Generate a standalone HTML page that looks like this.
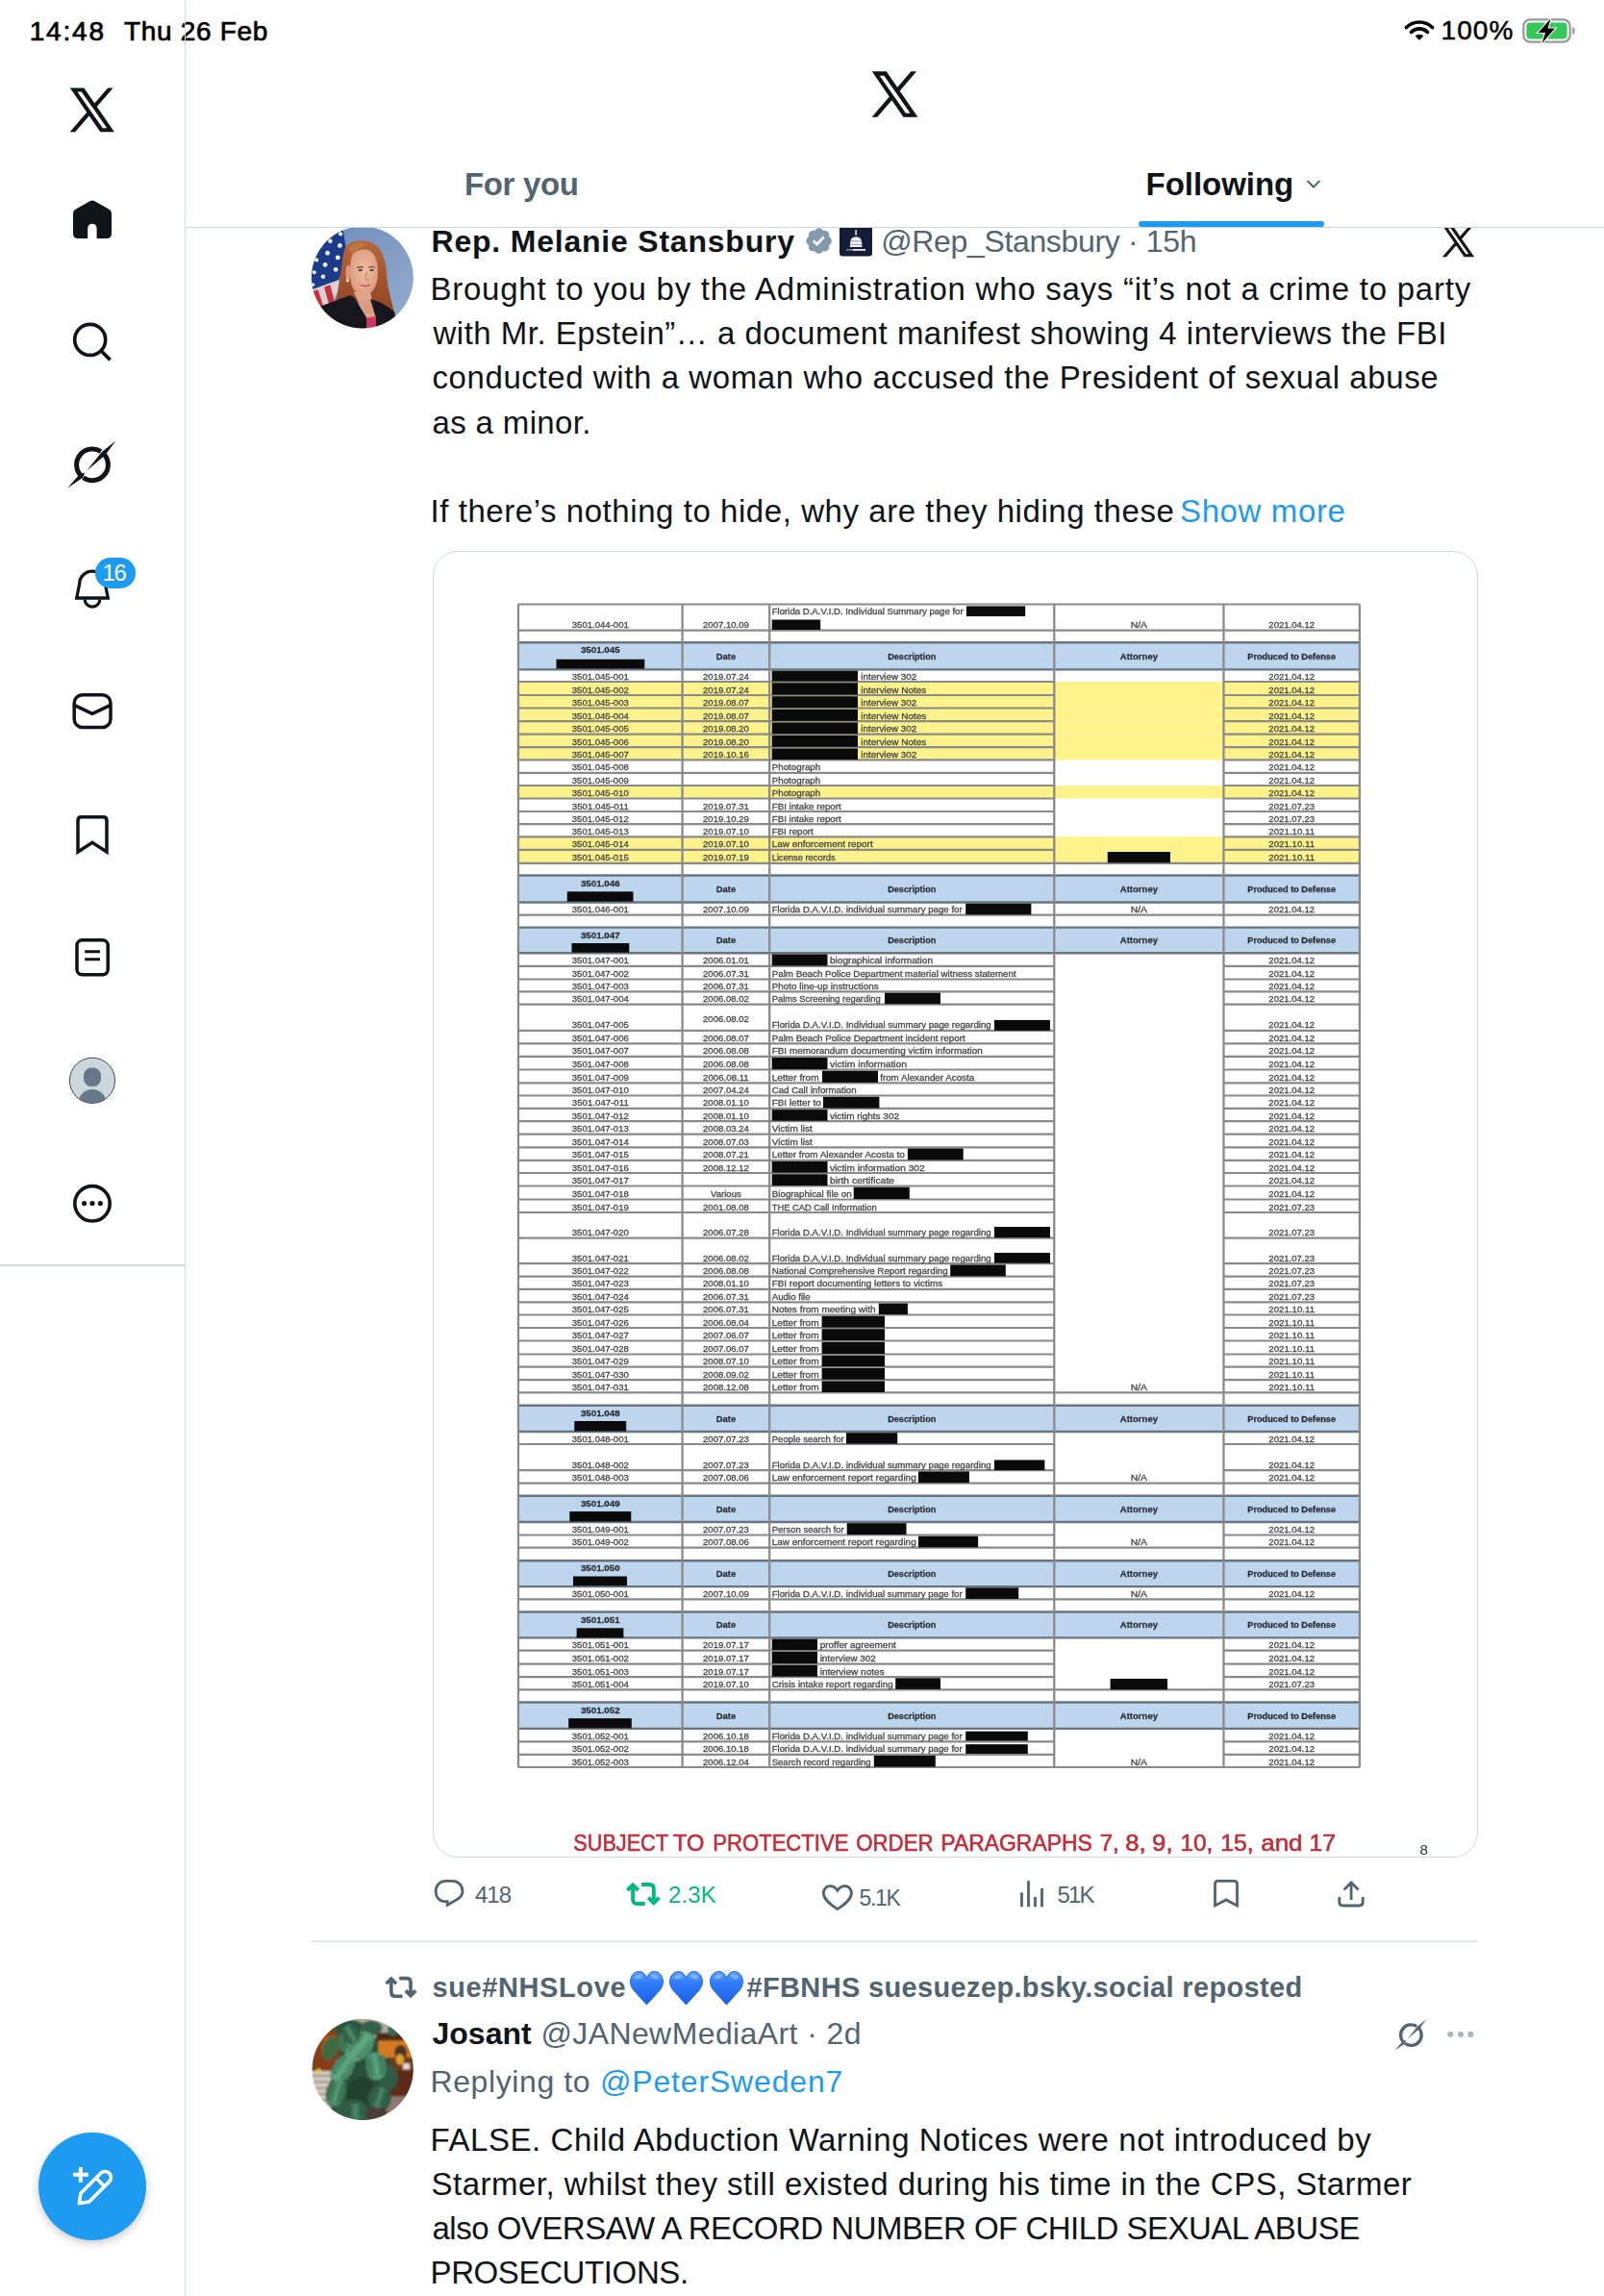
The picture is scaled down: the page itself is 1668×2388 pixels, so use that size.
<!DOCTYPE html>
<html><head><meta charset="utf-8"><title>X</title>
<style>
html,body{margin:0;padding:0;background:#fff;}
body{width:1668px;height:2388px;position:relative;overflow:hidden;font-family:"Liberation Sans", sans-serif;color:#0f1419;}
.t{position:absolute;white-space:nowrap;}
svg{position:absolute;overflow:visible;}
</style></head><body>
<svg style="left:320px;top:232px" width="114" height="114" viewBox="0 0 1604 1604">
<defs><clipPath id="av1c"><circle cx="800" cy="795" r="745"/></clipPath><filter id="av1b" x="-5%" y="-5%" width="110%" height="110%"><feGaussianBlur stdDeviation="10"/></filter>
<linearGradient id="av1bg" x1="0" y1="0" x2="1" y2="1"><stop offset="0" stop-color="#6a89ba"/><stop offset="0.6" stop-color="#86a0c6"/><stop offset="1" stop-color="#98afcc"/></linearGradient>
<linearGradient id="av1h" x1="0" y1="0" x2="0" y2="1"><stop offset="0" stop-color="#b8683c"/><stop offset="0.5" stop-color="#a4552c"/><stop offset="1" stop-color="#8e4424"/></linearGradient>
<radialGradient id="av1f" cx="0.5" cy="0.45" r="0.6"><stop offset="0" stop-color="#efbca2"/><stop offset="0.8" stop-color="#dfa286"/><stop offset="1" stop-color="#c8876a"/></radialGradient></defs>
<g clip-path="url(#av1c)"><g filter="url(#av1b)">
<rect x="0" y="0" width="1604" height="1604" fill="url(#av1bg)"/>
<polygon points="40,960 460,820 440,1000 340,1200 200,1280 60,1150" fill="#dcd0d6"/>
<polygon points="70,1000 150,975 240,1250 180,1270" fill="#c7323c"/>
<polygon points="240,935 330,905 390,1140 310,1190" fill="#c7323c"/>
<polygon points="150,170 515,90 570,420 530,640 455,830 60,975 40,700 70,380" fill="#1f3a8a"/>
<g fill="#eef2fa">
<circle cx="480" cy="160" r="30"/><circle cx="330" cy="265" r="32"/><circle cx="470" cy="330" r="34"/><circle cx="290" cy="440" r="34"/>
<circle cx="440" cy="505" r="34"/><circle cx="130" cy="540" r="30"/><circle cx="255" cy="610" r="34"/><circle cx="410" cy="680" r="34"/>
<circle cx="95" cy="720" r="28"/><circle cx="225" cy="785" r="32"/><circle cx="80" cy="900" r="24"/></g>
<path d="M560,340 C620,250 840,220 980,310 C1110,400 1150,600 1160,800 C1170,980 1230,1140 1270,1330 L1010,1320 L640,1120 C560,1140 480,1170 400,1190 C450,1000 470,800 500,600 C515,480 530,400 560,340 Z" fill="url(#av1h)"/>
<path d="M600,360 C680,280 820,270 900,320 C820,330 720,380 650,470 Z" fill="#c47a4a" opacity="0.7"/>
<path d="M650,470 C700,400 820,360 920,410 C1010,470 1040,640 1020,820 C1000,960 920,1060 830,1065 C740,1065 670,1000 640,900 C610,780 610,560 650,470 Z" fill="url(#av1f)"/>
<path d="M575,620 C605,605 630,650 628,710 C626,790 605,845 585,850 C550,830 545,700 575,620 Z" fill="#d99a80"/>
<circle cx="585" cy="840" r="22" fill="#f4f0ea"/>
<polygon points="670,1010 915,1010 1000,1385 865,1400" fill="#dea58a"/><polygon points="760,1150 915,1120 990,1300 870,1330" fill="#d39478" opacity="0.6"/>
<path d="M720,655 q45,-25 95,-5 M890,650 q45,-20 90,0" stroke="#6a4030" stroke-width="16" fill="none"/>
<ellipse cx="770" cy="690" rx="32" ry="14" fill="#4a3028"/><ellipse cx="935" cy="688" rx="30" ry="14" fill="#4a3028"/>
<path d="M860,720 q-20,80 -5,110 q20,12 45,0" stroke="#c28268" stroke-width="14" fill="none"/>
<path d="M770,905 q70,30 145,0 q-70,35 -145,0 Z" fill="#c0505e" stroke="#c0505e" stroke-width="16"/>
<path d="M120,1250 C300,1170 480,1110 620,1060 L680,1090 L870,1400 L860,1604 L100,1604 Z" fill="#17181d"/>
<path d="M915,1110 C1000,1130 1150,1190 1270,1300 L1320,1604 L990,1604 L995,1380 Z" fill="#17181d"/>
<polygon points="855,1390 995,1365 1005,1604 880,1604" fill="#d13463"/>
</g></g></svg>
<div class="t" id="name1" style="left:448.5px;top:235.31px;font-size:32px;line-height:32px;color:#0f1419;font-weight:700;letter-spacing:0.79px;">Rep. Melanie Stansbury</div>
<svg style="left:834.5px;top:234.6px" width="36" height="34" viewBox="0 0 24 24"><path fill="#8399ad" d="M20.396 11c-.018-.646-.215-1.275-.57-1.816-.354-.54-.852-.972-1.438-1.246.223-.607.27-1.264.14-1.897-.131-.634-.437-1.218-.882-1.687-.47-.445-1.053-.75-1.687-.882-.633-.13-1.29-.083-1.897.14-.273-.587-.704-1.086-1.245-1.44S11.647 1.62 11 1.604c-.646.017-1.273.213-1.813.568s-.969.854-1.24 1.44c-.608-.223-1.267-.272-1.902-.14-.635.13-1.22.436-1.69.882-.445.47-.749 1.055-.878 1.688-.13.633-.08 1.29.144 1.896-.587.274-1.087.705-1.443 1.245-.356.54-.555 1.17-.574 1.817.02.647.218 1.276.574 1.817.356.54.856.972 1.443 1.245-.224.606-.274 1.263-.144 1.896.13.634.433 1.218.877 1.688.47.443 1.054.747 1.687.878.633.132 1.29.084 1.897-.136.274.586.705 1.084 1.246 1.439.54.354 1.17.551 1.816.569.647-.016 1.276-.213 1.817-.567s.972-.854 1.245-1.44c.604.239 1.266.296 1.903.164.636-.132 1.22-.447 1.68-.907.46-.46.776-1.044.908-1.681s.075-1.299-.165-1.903c.586-.274 1.084-.705 1.439-1.246.354-.54.551-1.17.569-1.816z"/><path fill="#fff" d="M9.662 14.85l-3.429-3.428 1.293-1.302 2.072 2.072 4.4-4.794 1.347 1.246z"/></svg>
<svg style="left:873px;top:235px" width="34" height="31.5" viewBox="0 0 34 31.5"><rect x="0" y="0" width="34" height="31.5" rx="3.2" fill="#141c38"/>
<rect x="16.3" y="4.2" width="1.6" height="5.4" fill="#e8eaf0"/>
<path d="M11 22 L11 18.6 Q11 11.2 17.1 11.2 Q23.3 11.2 23.3 18.6 L23.3 22 Z" fill="#f2f3f6"/>
<path d="M11.5 15.8 H22.8 M11.3 19.4 H23" stroke="#8088a0" stroke-width="0.8"/>
<rect x="7" y="24" width="6" height="1.6" fill="#7d849a"/><rect x="13.5" y="24" width="13.5" height="1.8" fill="#e6e8ee"/></svg>
<div class="t" id="handle1" style="left:916.2px;top:235.31px;font-size:32px;line-height:32px;color:#536471;letter-spacing:-0.35px;">@Rep_Stansbury · 15h</div>
<svg style="left:1501.4px;top:234.8px" width="31.1" height="31.8" viewBox="0 0 1200 1227"><path fill="#0f1419" stroke="#0f1419" stroke-width="40" d="M714.163 519.284L1160.89 0H1055.03L667.137 450.887L357.328 0H0L468.492 681.821L0 1226.37H105.866L515.491 750.218L842.672 1226.37H1200L714.163 519.284ZM569.165 687.828L521.697 619.934L144.011 79.6944H306.615L611.412 515.685L658.88 583.579L1055.08 1150.3H892.476L569.165 687.828Z"/></svg>
<div class="t" id="b1" style="left:447.5px;top:283.86px;font-size:33px;line-height:33px;color:#0f1419;letter-spacing:0.75px;">Brought to you by the Administration who says “it’s not a crime to party</div>
<div class="t" id="b2" style="left:450.5px;top:330.06px;font-size:33px;line-height:33px;color:#0f1419;letter-spacing:0.49px;">with Mr. Epstein”… a document manifest showing 4 interviews the FBI</div>
<div class="t" id="b3" style="left:449.5px;top:376.46px;font-size:33px;line-height:33px;color:#0f1419;letter-spacing:0.59px;">conducted with a woman who accused the President of sexual abuse</div>
<div class="t" id="b4" style="left:449.5px;top:422.96px;font-size:33px;line-height:33px;color:#0f1419;letter-spacing:0.35px;">as a minor.</div>
<div class="t" id="b5" style="left:447.5px;top:514.86px;font-size:33px;line-height:33px;color:#0f1419;letter-spacing:0.56px;">If there’s nothing to hide, why are they hiding these</div>
<div class="t" id="b5m" style="left:1227px;top:514.86px;font-size:33px;line-height:33px;color:#1d9bf0;letter-spacing:0.62px;">Show more</div>
<div style="position:absolute;left:449.6px;top:573px;width:1085.4px;height:1357.4px;border:1px solid #cfd9de;border-radius:26px;background:#fff;"></div>
<svg style="left:0;top:0;filter:blur(0.5px)" width="1668" height="2388" viewBox="0 0 1668 2388"><rect x="539" y="668.3" width="874.9" height="28.1" fill="#bdd6ee"/><rect x="537.5" y="709" width="876.4" height="14" fill="#fef28b"/><rect x="537.5" y="723" width="876.4" height="13.5" fill="#fef28b"/><rect x="537.5" y="736.5" width="876.4" height="13.7" fill="#fef28b"/><rect x="537.5" y="750.2" width="876.4" height="13.5" fill="#fef28b"/><rect x="537.5" y="763.7" width="876.4" height="13.5" fill="#fef28b"/><rect x="537.5" y="777.2" width="876.4" height="13.2" fill="#fef28b"/><rect x="537.5" y="817" width="876.4" height="13.5" fill="#fef28b"/><rect x="537.5" y="870.3" width="876.4" height="13.5" fill="#fef28b"/><rect x="537.5" y="883.8" width="876.4" height="14" fill="#fef28b"/><rect x="539" y="910.5" width="874.9" height="28" fill="#bdd6ee"/><rect x="539" y="964.6" width="874.9" height="26.7" fill="#bdd6ee"/><rect x="539" y="1461.8" width="874.9" height="27.2" fill="#bdd6ee"/><rect x="539" y="1555.8" width="874.9" height="27.2" fill="#bdd6ee"/><rect x="539" y="1623.2" width="874.9" height="26.9" fill="#bdd6ee"/><rect x="539" y="1676.5" width="874.9" height="26.9" fill="#bdd6ee"/><rect x="539" y="1770.5" width="874.9" height="27.4" fill="#bdd6ee"/><path d="M539 628.5H1413.9" stroke="#8a8a8a" stroke-width="2.2"/><path d="M539 655.7H1413.9" stroke="#8a8a8a" stroke-width="2.2"/><path d="M539 668.3H1413.9" stroke="#6a7480" stroke-width="2.4"/><path d="M539 696.4H1413.9" stroke="#6a7480" stroke-width="2.4"/><path d="M539 709H1096.3M1272.5 709H1413.9" stroke="#8a8a8a" stroke-width="2.2"/><path d="M539 723H1096.3M1272.5 723H1413.9" stroke="#8a8a8a" stroke-width="2.2"/><path d="M539 736.5H1096.3M1272.5 736.5H1413.9" stroke="#8a8a8a" stroke-width="2.2"/><path d="M539 750.2H1096.3M1272.5 750.2H1413.9" stroke="#8a8a8a" stroke-width="2.2"/><path d="M539 763.7H1096.3M1272.5 763.7H1413.9" stroke="#8a8a8a" stroke-width="2.2"/><path d="M539 777.2H1096.3M1272.5 777.2H1413.9" stroke="#8a8a8a" stroke-width="2.2"/><path d="M539 790.4H1096.3M1272.5 790.4H1413.9" stroke="#8a8a8a" stroke-width="2.2"/><path d="M539 803.8H1096.3M1272.5 803.8H1413.9" stroke="#8a8a8a" stroke-width="2.2"/><path d="M539 817H1096.3M1272.5 817H1413.9" stroke="#8a8a8a" stroke-width="2.2"/><path d="M539 830.5H1096.3M1272.5 830.5H1413.9" stroke="#8a8a8a" stroke-width="2.2"/><path d="M539 844H1096.3M1272.5 844H1413.9" stroke="#8a8a8a" stroke-width="2.2"/><path d="M539 857.2H1096.3M1272.5 857.2H1413.9" stroke="#8a8a8a" stroke-width="2.2"/><path d="M539 870.3H1096.3M1272.5 870.3H1413.9" stroke="#8a8a8a" stroke-width="2.2"/><path d="M539 883.8H1096.3M1272.5 883.8H1413.9" stroke="#8a8a8a" stroke-width="2.2"/><path d="M539 897.8H1413.9" stroke="#8a8a8a" stroke-width="2.2"/><path d="M539 910.5H1413.9" stroke="#6a7480" stroke-width="2.4"/><path d="M539 938.5H1413.9" stroke="#6a7480" stroke-width="2.4"/><path d="M539 951.7H1413.9" stroke="#8a8a8a" stroke-width="2.2"/><path d="M539 964.6H1413.9" stroke="#6a7480" stroke-width="2.4"/><path d="M539 991.3H1413.9" stroke="#6a7480" stroke-width="2.4"/><path d="M539 1004.8H1096.3M1272.5 1004.8H1413.9" stroke="#8a8a8a" stroke-width="2.2"/><path d="M539 1018.5H1096.3M1272.5 1018.5H1413.9" stroke="#8a8a8a" stroke-width="2.2"/><path d="M539 1031.4H1096.3M1272.5 1031.4H1413.9" stroke="#8a8a8a" stroke-width="2.2"/><path d="M539 1044.6H1096.3M1272.5 1044.6H1413.9" stroke="#8a8a8a" stroke-width="2.2"/><path d="M539 1071.8H1096.3M1272.5 1071.8H1413.9" stroke="#8a8a8a" stroke-width="2.2"/><path d="M539 1085.3H1096.3M1272.5 1085.3H1413.9" stroke="#8a8a8a" stroke-width="2.2"/><path d="M539 1098.8H1096.3M1272.5 1098.8H1413.9" stroke="#8a8a8a" stroke-width="2.2"/><path d="M539 1112.5H1096.3M1272.5 1112.5H1413.9" stroke="#8a8a8a" stroke-width="2.2"/><path d="M539 1126.3H1096.3M1272.5 1126.3H1413.9" stroke="#8a8a8a" stroke-width="2.2"/><path d="M539 1139.5H1096.3M1272.5 1139.5H1413.9" stroke="#8a8a8a" stroke-width="2.2"/><path d="M539 1152.9H1096.3M1272.5 1152.9H1413.9" stroke="#8a8a8a" stroke-width="2.2"/><path d="M539 1166.1H1096.3M1272.5 1166.1H1413.9" stroke="#8a8a8a" stroke-width="2.2"/><path d="M539 1179.6H1096.3M1272.5 1179.6H1413.9" stroke="#8a8a8a" stroke-width="2.2"/><path d="M539 1193.3H1096.3M1272.5 1193.3H1413.9" stroke="#8a8a8a" stroke-width="2.2"/><path d="M539 1206.8H1096.3M1272.5 1206.8H1413.9" stroke="#8a8a8a" stroke-width="2.2"/><path d="M539 1220H1096.3M1272.5 1220H1413.9" stroke="#8a8a8a" stroke-width="2.2"/><path d="M539 1233.5H1096.3M1272.5 1233.5H1413.9" stroke="#8a8a8a" stroke-width="2.2"/><path d="M539 1247.5H1096.3M1272.5 1247.5H1413.9" stroke="#8a8a8a" stroke-width="2.2"/><path d="M539 1261H1096.3M1272.5 1261H1413.9" stroke="#8a8a8a" stroke-width="2.2"/><path d="M539 1287.6H1096.3M1272.5 1287.6H1413.9" stroke="#8a8a8a" stroke-width="2.2"/><path d="M539 1314.2H1096.3M1272.5 1314.2H1413.9" stroke="#8a8a8a" stroke-width="2.2"/><path d="M539 1327.7H1096.3M1272.5 1327.7H1413.9" stroke="#8a8a8a" stroke-width="2.2"/><path d="M539 1340.9H1096.3M1272.5 1340.9H1413.9" stroke="#8a8a8a" stroke-width="2.2"/><path d="M539 1354.4H1096.3M1272.5 1354.4H1413.9" stroke="#8a8a8a" stroke-width="2.2"/><path d="M539 1367.5H1096.3M1272.5 1367.5H1413.9" stroke="#8a8a8a" stroke-width="2.2"/><path d="M539 1381H1096.3M1272.5 1381H1413.9" stroke="#8a8a8a" stroke-width="2.2"/><path d="M539 1394.5H1096.3M1272.5 1394.5H1413.9" stroke="#8a8a8a" stroke-width="2.2"/><path d="M539 1408.5H1096.3M1272.5 1408.5H1413.9" stroke="#8a8a8a" stroke-width="2.2"/><path d="M539 1421.7H1096.3M1272.5 1421.7H1413.9" stroke="#8a8a8a" stroke-width="2.2"/><path d="M539 1435.2H1096.3M1272.5 1435.2H1413.9" stroke="#8a8a8a" stroke-width="2.2"/><path d="M539 1448.4H1413.9" stroke="#8a8a8a" stroke-width="2.2"/><path d="M539 1461.8H1413.9" stroke="#6a7480" stroke-width="2.4"/><path d="M539 1489H1413.9" stroke="#6a7480" stroke-width="2.4"/><path d="M539 1502H1096.3M1272.5 1502H1413.9" stroke="#8a8a8a" stroke-width="2.2"/><path d="M539 1529.2H1096.3M1272.5 1529.2H1413.9" stroke="#8a8a8a" stroke-width="2.2"/><path d="M539 1542.6H1413.9" stroke="#8a8a8a" stroke-width="2.2"/><path d="M539 1555.8H1413.9" stroke="#6a7480" stroke-width="2.4"/><path d="M539 1583H1413.9" stroke="#6a7480" stroke-width="2.4"/><path d="M539 1596.5H1096.3M1272.5 1596.5H1413.9" stroke="#8a8a8a" stroke-width="2.2"/><path d="M539 1609.7H1413.9" stroke="#8a8a8a" stroke-width="2.2"/><path d="M539 1623.2H1413.9" stroke="#6a7480" stroke-width="2.4"/><path d="M539 1650.1H1413.9" stroke="#6a7480" stroke-width="2.4"/><path d="M539 1663.3H1413.9" stroke="#8a8a8a" stroke-width="2.2"/><path d="M539 1676.5H1413.9" stroke="#6a7480" stroke-width="2.4"/><path d="M539 1703.4H1413.9" stroke="#6a7480" stroke-width="2.4"/><path d="M539 1716.6H1096.3M1272.5 1716.6H1413.9" stroke="#8a8a8a" stroke-width="2.2"/><path d="M539 1730.6H1096.3M1272.5 1730.6H1413.9" stroke="#8a8a8a" stroke-width="2.2"/><path d="M539 1744.1H1096.3M1272.5 1744.1H1413.9" stroke="#8a8a8a" stroke-width="2.2"/><path d="M539 1757.3H1413.9" stroke="#8a8a8a" stroke-width="2.2"/><path d="M539 1770.5H1413.9" stroke="#6a7480" stroke-width="2.4"/><path d="M539 1797.9H1413.9" stroke="#6a7480" stroke-width="2.4"/><path d="M539 1811.3H1096.3M1272.5 1811.3H1413.9" stroke="#8a8a8a" stroke-width="2.2"/><path d="M539 1824.8H1096.3M1272.5 1824.8H1413.9" stroke="#8a8a8a" stroke-width="2.2"/><path d="M539 1838H1413.9" stroke="#8a8a8a" stroke-width="2.2"/><path d="M539 628.5V1838" stroke="#8a8a8a" stroke-width="2.3"/><path d="M709.6 628.5V1838" stroke="#8a8a8a" stroke-width="2.3"/><path d="M800.2 628.5V1838" stroke="#8a8a8a" stroke-width="2.3"/><path d="M1096.3 628.5V1838" stroke="#8a8a8a" stroke-width="2.3"/><path d="M1272.5 628.5V1838" stroke="#8a8a8a" stroke-width="2.3"/><path d="M1413.9 628.5V1838" stroke="#8a8a8a" stroke-width="2.3"/><g font-family="Liberation Sans, sans-serif" font-size="9.3" fill="#474747" stroke="#474747" stroke-width="0.3"><text x="594.8" y="653.2" textLength="59" lengthAdjust="spacingAndGlyphs">3501.044-001</text><text x="731.05" y="653.2" textLength="47.7" lengthAdjust="spacingAndGlyphs">2007.10.09</text><text x="1319.35" y="653.2" textLength="47.7" lengthAdjust="spacingAndGlyphs">2021.04.12</text><text x="1175.7" y="653.2" textLength="17.4" lengthAdjust="spacingAndGlyphs">N/A</text><text x="802.7" y="638.6" textLength="199" lengthAdjust="spacingAndGlyphs">Florida D.A.V.I.D. Individual Summary page for</text><text x="603.95" y="679.3" textLength="40.7" lengthAdjust="spacingAndGlyphs" font-weight="700" fill="#1c2431">3501.045</text><text x="744.65" y="685.75" textLength="20.5" lengthAdjust="spacingAndGlyphs" font-weight="700" fill="#1c2431">Date</text><text x="923.25" y="685.75" textLength="50" lengthAdjust="spacingAndGlyphs" font-weight="700" fill="#1c2431">Description</text><text x="1164.75" y="685.75" textLength="39.3" lengthAdjust="spacingAndGlyphs" font-weight="700" fill="#1c2431">Attorney</text><text x="1297.35" y="685.75" textLength="91.7" lengthAdjust="spacingAndGlyphs" font-weight="700" fill="#1c2431">Produced to Defense</text><text x="594.8" y="706.5" textLength="59" lengthAdjust="spacingAndGlyphs">3501.045-001</text><text x="731.05" y="706.5" textLength="47.7" lengthAdjust="spacingAndGlyphs">2019.07.24</text><text x="1319.35" y="706.5" textLength="47.7" lengthAdjust="spacingAndGlyphs">2021.04.12</text><text x="895.3" y="706.5" textLength="58" lengthAdjust="spacingAndGlyphs">interview 302</text><text x="594.8" y="720.5" textLength="59" lengthAdjust="spacingAndGlyphs">3501.045-002</text><text x="731.05" y="720.5" textLength="47.7" lengthAdjust="spacingAndGlyphs">2019.07.24</text><text x="1319.35" y="720.5" textLength="47.7" lengthAdjust="spacingAndGlyphs">2021.04.12</text><text x="895.3" y="720.5" textLength="68" lengthAdjust="spacingAndGlyphs">interview Notes</text><text x="594.8" y="734" textLength="59" lengthAdjust="spacingAndGlyphs">3501.045-003</text><text x="731.05" y="734" textLength="47.7" lengthAdjust="spacingAndGlyphs">2019.08.07</text><text x="1319.35" y="734" textLength="47.7" lengthAdjust="spacingAndGlyphs">2021.04.12</text><text x="895.3" y="734" textLength="58" lengthAdjust="spacingAndGlyphs">interview 302</text><text x="594.8" y="747.7" textLength="59" lengthAdjust="spacingAndGlyphs">3501.045-004</text><text x="731.05" y="747.7" textLength="47.7" lengthAdjust="spacingAndGlyphs">2019.08.07</text><text x="1319.35" y="747.7" textLength="47.7" lengthAdjust="spacingAndGlyphs">2021.04.12</text><text x="895.3" y="747.7" textLength="68" lengthAdjust="spacingAndGlyphs">interview Notes</text><text x="594.8" y="761.2" textLength="59" lengthAdjust="spacingAndGlyphs">3501.045-005</text><text x="731.05" y="761.2" textLength="47.7" lengthAdjust="spacingAndGlyphs">2019.08.20</text><text x="1319.35" y="761.2" textLength="47.7" lengthAdjust="spacingAndGlyphs">2021.04.12</text><text x="895.3" y="761.2" textLength="58" lengthAdjust="spacingAndGlyphs">interview 302</text><text x="594.8" y="774.7" textLength="59" lengthAdjust="spacingAndGlyphs">3501.045-006</text><text x="731.05" y="774.7" textLength="47.7" lengthAdjust="spacingAndGlyphs">2019.08.20</text><text x="1319.35" y="774.7" textLength="47.7" lengthAdjust="spacingAndGlyphs">2021.04.12</text><text x="895.3" y="774.7" textLength="68" lengthAdjust="spacingAndGlyphs">interview Notes</text><text x="594.8" y="787.9" textLength="59" lengthAdjust="spacingAndGlyphs">3501.045-007</text><text x="731.05" y="787.9" textLength="47.7" lengthAdjust="spacingAndGlyphs">2019.10.16</text><text x="1319.35" y="787.9" textLength="47.7" lengthAdjust="spacingAndGlyphs">2021.04.12</text><text x="895.3" y="787.9" textLength="58" lengthAdjust="spacingAndGlyphs">interview 302</text><text x="594.8" y="801.3" textLength="59" lengthAdjust="spacingAndGlyphs">3501.045-008</text><text x="1319.35" y="801.3" textLength="47.7" lengthAdjust="spacingAndGlyphs">2021.04.12</text><text x="802.7" y="801.3" textLength="50.5" lengthAdjust="spacingAndGlyphs">Photograph</text><text x="594.8" y="814.5" textLength="59" lengthAdjust="spacingAndGlyphs">3501.045-009</text><text x="1319.35" y="814.5" textLength="47.7" lengthAdjust="spacingAndGlyphs">2021.04.12</text><text x="802.7" y="814.5" textLength="50.5" lengthAdjust="spacingAndGlyphs">Photograph</text><text x="594.8" y="828" textLength="59" lengthAdjust="spacingAndGlyphs">3501.045-010</text><text x="1319.35" y="828" textLength="47.7" lengthAdjust="spacingAndGlyphs">2021.04.12</text><text x="802.7" y="828" textLength="50.5" lengthAdjust="spacingAndGlyphs">Photograph</text><text x="594.8" y="841.5" textLength="59" lengthAdjust="spacingAndGlyphs">3501.045-011</text><text x="731.05" y="841.5" textLength="47.7" lengthAdjust="spacingAndGlyphs">2019.07.31</text><text x="1319.35" y="841.5" textLength="47.7" lengthAdjust="spacingAndGlyphs">2021.07.23</text><text x="802.7" y="841.5" textLength="72" lengthAdjust="spacingAndGlyphs">FBI intake report</text><text x="594.8" y="854.7" textLength="59" lengthAdjust="spacingAndGlyphs">3501.045-012</text><text x="731.05" y="854.7" textLength="47.7" lengthAdjust="spacingAndGlyphs">2019.10.29</text><text x="1319.35" y="854.7" textLength="47.7" lengthAdjust="spacingAndGlyphs">2021.07.23</text><text x="802.7" y="854.7" textLength="72" lengthAdjust="spacingAndGlyphs">FBI intake report</text><text x="594.8" y="867.8" textLength="59" lengthAdjust="spacingAndGlyphs">3501.045-013</text><text x="731.05" y="867.8" textLength="47.7" lengthAdjust="spacingAndGlyphs">2019.07.10</text><text x="1319.35" y="867.8" textLength="47.7" lengthAdjust="spacingAndGlyphs">2021.10.11</text><text x="802.7" y="867.8" textLength="43" lengthAdjust="spacingAndGlyphs">FBI report</text><text x="594.8" y="881.3" textLength="59" lengthAdjust="spacingAndGlyphs">3501.045-014</text><text x="731.05" y="881.3" textLength="47.7" lengthAdjust="spacingAndGlyphs">2019.07.10</text><text x="1319.35" y="881.3" textLength="47.7" lengthAdjust="spacingAndGlyphs">2021.10.11</text><text x="802.7" y="881.3" textLength="105" lengthAdjust="spacingAndGlyphs">Law enforcement report</text><text x="594.8" y="895.3" textLength="59" lengthAdjust="spacingAndGlyphs">3501.045-015</text><text x="731.05" y="895.3" textLength="47.7" lengthAdjust="spacingAndGlyphs">2019.07.19</text><text x="1319.35" y="895.3" textLength="47.7" lengthAdjust="spacingAndGlyphs">2021.10.11</text><text x="802.7" y="895.3" textLength="66" lengthAdjust="spacingAndGlyphs">License records</text><text x="603.95" y="921.5" textLength="40.7" lengthAdjust="spacingAndGlyphs" font-weight="700" fill="#1c2431">3501.046</text><text x="744.65" y="927.9" textLength="20.5" lengthAdjust="spacingAndGlyphs" font-weight="700" fill="#1c2431">Date</text><text x="923.25" y="927.9" textLength="50" lengthAdjust="spacingAndGlyphs" font-weight="700" fill="#1c2431">Description</text><text x="1164.75" y="927.9" textLength="39.3" lengthAdjust="spacingAndGlyphs" font-weight="700" fill="#1c2431">Attorney</text><text x="1297.35" y="927.9" textLength="91.7" lengthAdjust="spacingAndGlyphs" font-weight="700" fill="#1c2431">Produced to Defense</text><text x="594.8" y="949.2" textLength="59" lengthAdjust="spacingAndGlyphs">3501.046-001</text><text x="731.05" y="949.2" textLength="47.7" lengthAdjust="spacingAndGlyphs">2007.10.09</text><text x="1319.35" y="949.2" textLength="47.7" lengthAdjust="spacingAndGlyphs">2021.04.12</text><text x="1175.7" y="949.2" textLength="17.4" lengthAdjust="spacingAndGlyphs">N/A</text><text x="802.7" y="949.2" textLength="198" lengthAdjust="spacingAndGlyphs">Florida D.A.V.I.D. individual summary page for</text><text x="603.95" y="975.6" textLength="40.7" lengthAdjust="spacingAndGlyphs" font-weight="700" fill="#1c2431">3501.047</text><text x="744.65" y="981.35" textLength="20.5" lengthAdjust="spacingAndGlyphs" font-weight="700" fill="#1c2431">Date</text><text x="923.25" y="981.35" textLength="50" lengthAdjust="spacingAndGlyphs" font-weight="700" fill="#1c2431">Description</text><text x="1164.75" y="981.35" textLength="39.3" lengthAdjust="spacingAndGlyphs" font-weight="700" fill="#1c2431">Attorney</text><text x="1297.35" y="981.35" textLength="91.7" lengthAdjust="spacingAndGlyphs" font-weight="700" fill="#1c2431">Produced to Defense</text><text x="594.8" y="1002.3" textLength="59" lengthAdjust="spacingAndGlyphs">3501.047-001</text><text x="731.05" y="1002.3" textLength="47.7" lengthAdjust="spacingAndGlyphs">2006.01.01</text><text x="1319.35" y="1002.3" textLength="47.7" lengthAdjust="spacingAndGlyphs">2021.04.12</text><text x="863" y="1002.3" textLength="107" lengthAdjust="spacingAndGlyphs">biographical information</text><text x="594.8" y="1016" textLength="59" lengthAdjust="spacingAndGlyphs">3501.047-002</text><text x="731.05" y="1016" textLength="47.7" lengthAdjust="spacingAndGlyphs">2006.07.31</text><text x="1319.35" y="1016" textLength="47.7" lengthAdjust="spacingAndGlyphs">2021.04.12</text><text x="802.7" y="1016" textLength="254" lengthAdjust="spacingAndGlyphs">Palm Beach Police Department material witness statement</text><text x="594.8" y="1028.9" textLength="59" lengthAdjust="spacingAndGlyphs">3501.047-003</text><text x="731.05" y="1028.9" textLength="47.7" lengthAdjust="spacingAndGlyphs">2006.07.31</text><text x="1319.35" y="1028.9" textLength="47.7" lengthAdjust="spacingAndGlyphs">2021.04.12</text><text x="802.7" y="1028.9" textLength="111" lengthAdjust="spacingAndGlyphs">Photo line-up instructions</text><text x="594.8" y="1042.1" textLength="59" lengthAdjust="spacingAndGlyphs">3501.047-004</text><text x="731.05" y="1042.1" textLength="47.7" lengthAdjust="spacingAndGlyphs">2006.08.02</text><text x="1319.35" y="1042.1" textLength="47.7" lengthAdjust="spacingAndGlyphs">2021.04.12</text><text x="802.7" y="1042.1" textLength="113" lengthAdjust="spacingAndGlyphs">Palms Screening regarding</text><text x="594.8" y="1069.3" textLength="59" lengthAdjust="spacingAndGlyphs">3501.047-005</text><text x="731.05" y="1063.2" textLength="47.7" lengthAdjust="spacingAndGlyphs">2006.08.02</text><text x="1319.35" y="1069.3" textLength="47.7" lengthAdjust="spacingAndGlyphs">2021.04.12</text><text x="802.7" y="1069.3" textLength="228" lengthAdjust="spacingAndGlyphs">Florida D.A.V.I.D. Individual summary page regarding</text><text x="594.8" y="1082.8" textLength="59" lengthAdjust="spacingAndGlyphs">3501.047-006</text><text x="731.05" y="1082.8" textLength="47.7" lengthAdjust="spacingAndGlyphs">2006.08.07</text><text x="1319.35" y="1082.8" textLength="47.7" lengthAdjust="spacingAndGlyphs">2021.04.12</text><text x="802.7" y="1082.8" textLength="201" lengthAdjust="spacingAndGlyphs">Palm Beach Police Department incident report</text><text x="594.8" y="1096.3" textLength="59" lengthAdjust="spacingAndGlyphs">3501.047-007</text><text x="731.05" y="1096.3" textLength="47.7" lengthAdjust="spacingAndGlyphs">2006.08.08</text><text x="1319.35" y="1096.3" textLength="47.7" lengthAdjust="spacingAndGlyphs">2021.04.12</text><text x="802.7" y="1096.3" textLength="219" lengthAdjust="spacingAndGlyphs">FBI memorandum documenting victim information</text><text x="594.8" y="1110" textLength="59" lengthAdjust="spacingAndGlyphs">3501.047-008</text><text x="731.05" y="1110" textLength="47.7" lengthAdjust="spacingAndGlyphs">2006.08.08</text><text x="1319.35" y="1110" textLength="47.7" lengthAdjust="spacingAndGlyphs">2021.04.12</text><text x="863" y="1110" textLength="80" lengthAdjust="spacingAndGlyphs">victim information</text><text x="594.8" y="1123.8" textLength="59" lengthAdjust="spacingAndGlyphs">3501.047-009</text><text x="731.05" y="1123.8" textLength="47.7" lengthAdjust="spacingAndGlyphs">2006.08.11</text><text x="1319.35" y="1123.8" textLength="47.7" lengthAdjust="spacingAndGlyphs">2021.04.12</text><text x="802.7" y="1123.8" textLength="49" lengthAdjust="spacingAndGlyphs">Letter from</text><text x="915.2" y="1123.8" textLength="98" lengthAdjust="spacingAndGlyphs">from Alexander Acosta</text><text x="594.8" y="1137" textLength="59" lengthAdjust="spacingAndGlyphs">3501.047-010</text><text x="731.05" y="1137" textLength="47.7" lengthAdjust="spacingAndGlyphs">2007.04.24</text><text x="1319.35" y="1137" textLength="47.7" lengthAdjust="spacingAndGlyphs">2021.04.12</text><text x="802.7" y="1137" textLength="88" lengthAdjust="spacingAndGlyphs">Cad Call information</text><text x="594.8" y="1150.4" textLength="59" lengthAdjust="spacingAndGlyphs">3501.047-011</text><text x="731.05" y="1150.4" textLength="47.7" lengthAdjust="spacingAndGlyphs">2008.01.10</text><text x="1319.35" y="1150.4" textLength="47.7" lengthAdjust="spacingAndGlyphs">2021.04.12</text><text x="802.7" y="1150.4" textLength="51" lengthAdjust="spacingAndGlyphs">FBI letter to</text><text x="594.8" y="1163.6" textLength="59" lengthAdjust="spacingAndGlyphs">3501.047-012</text><text x="731.05" y="1163.6" textLength="47.7" lengthAdjust="spacingAndGlyphs">2008.01.10</text><text x="1319.35" y="1163.6" textLength="47.7" lengthAdjust="spacingAndGlyphs">2021.04.12</text><text x="863" y="1163.6" textLength="72" lengthAdjust="spacingAndGlyphs">victim rights 302</text><text x="594.8" y="1177.1" textLength="59" lengthAdjust="spacingAndGlyphs">3501.047-013</text><text x="731.05" y="1177.1" textLength="47.7" lengthAdjust="spacingAndGlyphs">2008.03.24</text><text x="1319.35" y="1177.1" textLength="47.7" lengthAdjust="spacingAndGlyphs">2021.04.12</text><text x="802.7" y="1177.1" textLength="42" lengthAdjust="spacingAndGlyphs">Victim list</text><text x="594.8" y="1190.8" textLength="59" lengthAdjust="spacingAndGlyphs">3501.047-014</text><text x="731.05" y="1190.8" textLength="47.7" lengthAdjust="spacingAndGlyphs">2008.07.03</text><text x="1319.35" y="1190.8" textLength="47.7" lengthAdjust="spacingAndGlyphs">2021.04.12</text><text x="802.7" y="1190.8" textLength="42" lengthAdjust="spacingAndGlyphs">Victim list</text><text x="594.8" y="1204.3" textLength="59" lengthAdjust="spacingAndGlyphs">3501.047-015</text><text x="731.05" y="1204.3" textLength="47.7" lengthAdjust="spacingAndGlyphs">2008.07.21</text><text x="1319.35" y="1204.3" textLength="47.7" lengthAdjust="spacingAndGlyphs">2021.04.12</text><text x="802.7" y="1204.3" textLength="138" lengthAdjust="spacingAndGlyphs">Letter from Alexander Acosta to</text><text x="594.8" y="1217.5" textLength="59" lengthAdjust="spacingAndGlyphs">3501.047-016</text><text x="731.05" y="1217.5" textLength="47.7" lengthAdjust="spacingAndGlyphs">2008.12.12</text><text x="1319.35" y="1217.5" textLength="47.7" lengthAdjust="spacingAndGlyphs">2021.04.12</text><text x="863" y="1217.5" textLength="98.6" lengthAdjust="spacingAndGlyphs">victim information 302</text><text x="594.8" y="1231" textLength="59" lengthAdjust="spacingAndGlyphs">3501.047-017</text><text x="1319.35" y="1231" textLength="47.7" lengthAdjust="spacingAndGlyphs">2021.04.12</text><text x="863" y="1231" textLength="67" lengthAdjust="spacingAndGlyphs">birth certificate</text><text x="594.8" y="1245" textLength="59" lengthAdjust="spacingAndGlyphs">3501.047-018</text><text x="739.05" y="1245" textLength="31.7" lengthAdjust="spacingAndGlyphs">Various</text><text x="1319.35" y="1245" textLength="47.7" lengthAdjust="spacingAndGlyphs">2021.04.12</text><text x="802.7" y="1245" textLength="83" lengthAdjust="spacingAndGlyphs">Biographical file on</text><text x="594.8" y="1258.5" textLength="59" lengthAdjust="spacingAndGlyphs">3501.047-019</text><text x="731.05" y="1258.5" textLength="47.7" lengthAdjust="spacingAndGlyphs">2001.08.08</text><text x="1319.35" y="1258.5" textLength="47.7" lengthAdjust="spacingAndGlyphs">2021.07.23</text><text x="802.7" y="1258.5" textLength="109" lengthAdjust="spacingAndGlyphs">THE CAD Call Information</text><text x="594.8" y="1285.1" textLength="59" lengthAdjust="spacingAndGlyphs">3501.047-020</text><text x="731.05" y="1285.1" textLength="47.7" lengthAdjust="spacingAndGlyphs">2006.07.28</text><text x="1319.35" y="1285.1" textLength="47.7" lengthAdjust="spacingAndGlyphs">2021.07.23</text><text x="802.7" y="1285.1" textLength="228" lengthAdjust="spacingAndGlyphs">Florida D.A.V.I.D. Individual summary page regarding</text><text x="594.8" y="1311.7" textLength="59" lengthAdjust="spacingAndGlyphs">3501.047-021</text><text x="731.05" y="1311.7" textLength="47.7" lengthAdjust="spacingAndGlyphs">2006.08.02</text><text x="1319.35" y="1311.7" textLength="47.7" lengthAdjust="spacingAndGlyphs">2021.07.23</text><text x="802.7" y="1311.7" textLength="228" lengthAdjust="spacingAndGlyphs">Florida D.A.V.I.D. Individual summary page regarding</text><text x="594.8" y="1325.2" textLength="59" lengthAdjust="spacingAndGlyphs">3501.047-022</text><text x="731.05" y="1325.2" textLength="47.7" lengthAdjust="spacingAndGlyphs">2006.08.08</text><text x="1319.35" y="1325.2" textLength="47.7" lengthAdjust="spacingAndGlyphs">2021.07.23</text><text x="802.7" y="1325.2" textLength="183" lengthAdjust="spacingAndGlyphs">National Comprehensive Report regarding</text><text x="594.8" y="1338.4" textLength="59" lengthAdjust="spacingAndGlyphs">3501.047-023</text><text x="731.05" y="1338.4" textLength="47.7" lengthAdjust="spacingAndGlyphs">2008.01.10</text><text x="1319.35" y="1338.4" textLength="47.7" lengthAdjust="spacingAndGlyphs">2021.07.23</text><text x="802.7" y="1338.4" textLength="177.5" lengthAdjust="spacingAndGlyphs">FBI report documenting letters to victims</text><text x="594.8" y="1351.9" textLength="59" lengthAdjust="spacingAndGlyphs">3501.047-024</text><text x="731.05" y="1351.9" textLength="47.7" lengthAdjust="spacingAndGlyphs">2006.07.31</text><text x="1319.35" y="1351.9" textLength="47.7" lengthAdjust="spacingAndGlyphs">2021.07.23</text><text x="802.7" y="1351.9" textLength="40" lengthAdjust="spacingAndGlyphs">Audio file</text><text x="594.8" y="1365" textLength="59" lengthAdjust="spacingAndGlyphs">3501.047-025</text><text x="731.05" y="1365" textLength="47.7" lengthAdjust="spacingAndGlyphs">2006.07.31</text><text x="1319.35" y="1365" textLength="47.7" lengthAdjust="spacingAndGlyphs">2021.10.11</text><text x="802.7" y="1365" textLength="108" lengthAdjust="spacingAndGlyphs">Notes from meeting with</text><text x="594.8" y="1378.5" textLength="59" lengthAdjust="spacingAndGlyphs">3501.047-026</text><text x="731.05" y="1378.5" textLength="47.7" lengthAdjust="spacingAndGlyphs">2006.08.04</text><text x="1319.35" y="1378.5" textLength="47.7" lengthAdjust="spacingAndGlyphs">2021.10.11</text><text x="802.7" y="1378.5" textLength="49" lengthAdjust="spacingAndGlyphs">Letter from</text><text x="594.8" y="1392" textLength="59" lengthAdjust="spacingAndGlyphs">3501.047-027</text><text x="731.05" y="1392" textLength="47.7" lengthAdjust="spacingAndGlyphs">2007.06.07</text><text x="1319.35" y="1392" textLength="47.7" lengthAdjust="spacingAndGlyphs">2021.10.11</text><text x="802.7" y="1392" textLength="49" lengthAdjust="spacingAndGlyphs">Letter from</text><text x="594.8" y="1406" textLength="59" lengthAdjust="spacingAndGlyphs">3501.047-028</text><text x="731.05" y="1406" textLength="47.7" lengthAdjust="spacingAndGlyphs">2007.06.07</text><text x="1319.35" y="1406" textLength="47.7" lengthAdjust="spacingAndGlyphs">2021.10.11</text><text x="802.7" y="1406" textLength="49" lengthAdjust="spacingAndGlyphs">Letter from</text><text x="594.8" y="1419.2" textLength="59" lengthAdjust="spacingAndGlyphs">3501.047-029</text><text x="731.05" y="1419.2" textLength="47.7" lengthAdjust="spacingAndGlyphs">2008.07.10</text><text x="1319.35" y="1419.2" textLength="47.7" lengthAdjust="spacingAndGlyphs">2021.10.11</text><text x="802.7" y="1419.2" textLength="49" lengthAdjust="spacingAndGlyphs">Letter from</text><text x="594.8" y="1432.7" textLength="59" lengthAdjust="spacingAndGlyphs">3501.047-030</text><text x="731.05" y="1432.7" textLength="47.7" lengthAdjust="spacingAndGlyphs">2008.09.02</text><text x="1319.35" y="1432.7" textLength="47.7" lengthAdjust="spacingAndGlyphs">2021.10.11</text><text x="802.7" y="1432.7" textLength="49" lengthAdjust="spacingAndGlyphs">Letter from</text><text x="594.8" y="1445.9" textLength="59" lengthAdjust="spacingAndGlyphs">3501.047-031</text><text x="731.05" y="1445.9" textLength="47.7" lengthAdjust="spacingAndGlyphs">2008.12.08</text><text x="1319.35" y="1445.9" textLength="47.7" lengthAdjust="spacingAndGlyphs">2021.10.11</text><text x="1175.7" y="1445.9" textLength="17.4" lengthAdjust="spacingAndGlyphs">N/A</text><text x="802.7" y="1445.9" textLength="49" lengthAdjust="spacingAndGlyphs">Letter from</text><text x="603.95" y="1472.8" textLength="40.7" lengthAdjust="spacingAndGlyphs" font-weight="700" fill="#1c2431">3501.048</text><text x="744.65" y="1478.8" textLength="20.5" lengthAdjust="spacingAndGlyphs" font-weight="700" fill="#1c2431">Date</text><text x="923.25" y="1478.8" textLength="50" lengthAdjust="spacingAndGlyphs" font-weight="700" fill="#1c2431">Description</text><text x="1164.75" y="1478.8" textLength="39.3" lengthAdjust="spacingAndGlyphs" font-weight="700" fill="#1c2431">Attorney</text><text x="1297.35" y="1478.8" textLength="91.7" lengthAdjust="spacingAndGlyphs" font-weight="700" fill="#1c2431">Produced to Defense</text><text x="594.8" y="1499.5" textLength="59" lengthAdjust="spacingAndGlyphs">3501.048-001</text><text x="731.05" y="1499.5" textLength="47.7" lengthAdjust="spacingAndGlyphs">2007.07.23</text><text x="1319.35" y="1499.5" textLength="47.7" lengthAdjust="spacingAndGlyphs">2021.04.12</text><text x="802.7" y="1499.5" textLength="75" lengthAdjust="spacingAndGlyphs">People search for</text><text x="594.8" y="1526.7" textLength="59" lengthAdjust="spacingAndGlyphs">3501.048-002</text><text x="731.05" y="1526.7" textLength="47.7" lengthAdjust="spacingAndGlyphs">2007.07.23</text><text x="1319.35" y="1526.7" textLength="47.7" lengthAdjust="spacingAndGlyphs">2021.04.12</text><text x="802.7" y="1526.7" textLength="228" lengthAdjust="spacingAndGlyphs">Florida D.A.V.I.D. individual summary page regarding</text><text x="594.8" y="1540.1" textLength="59" lengthAdjust="spacingAndGlyphs">3501.048-003</text><text x="731.05" y="1540.1" textLength="47.7" lengthAdjust="spacingAndGlyphs">2007.08.06</text><text x="1319.35" y="1540.1" textLength="47.7" lengthAdjust="spacingAndGlyphs">2021.04.12</text><text x="1175.7" y="1540.1" textLength="17.4" lengthAdjust="spacingAndGlyphs">N/A</text><text x="802.7" y="1540.1" textLength="150" lengthAdjust="spacingAndGlyphs">Law enforcement report regarding</text><text x="603.95" y="1566.8" textLength="40.7" lengthAdjust="spacingAndGlyphs" font-weight="700" fill="#1c2431">3501.049</text><text x="744.65" y="1572.8" textLength="20.5" lengthAdjust="spacingAndGlyphs" font-weight="700" fill="#1c2431">Date</text><text x="923.25" y="1572.8" textLength="50" lengthAdjust="spacingAndGlyphs" font-weight="700" fill="#1c2431">Description</text><text x="1164.75" y="1572.8" textLength="39.3" lengthAdjust="spacingAndGlyphs" font-weight="700" fill="#1c2431">Attorney</text><text x="1297.35" y="1572.8" textLength="91.7" lengthAdjust="spacingAndGlyphs" font-weight="700" fill="#1c2431">Produced to Defense</text><text x="594.8" y="1594" textLength="59" lengthAdjust="spacingAndGlyphs">3501.049-001</text><text x="731.05" y="1594" textLength="47.7" lengthAdjust="spacingAndGlyphs">2007.07.23</text><text x="1319.35" y="1594" textLength="47.7" lengthAdjust="spacingAndGlyphs">2021.04.12</text><text x="802.7" y="1594" textLength="75" lengthAdjust="spacingAndGlyphs">Person search for</text><text x="594.8" y="1607.2" textLength="59" lengthAdjust="spacingAndGlyphs">3501.049-002</text><text x="731.05" y="1607.2" textLength="47.7" lengthAdjust="spacingAndGlyphs">2007.08.06</text><text x="1319.35" y="1607.2" textLength="47.7" lengthAdjust="spacingAndGlyphs">2021.04.12</text><text x="1175.7" y="1607.2" textLength="17.4" lengthAdjust="spacingAndGlyphs">N/A</text><text x="802.7" y="1607.2" textLength="150" lengthAdjust="spacingAndGlyphs">Law enforcement report regarding</text><text x="603.95" y="1634.2" textLength="40.7" lengthAdjust="spacingAndGlyphs" font-weight="700" fill="#1c2431">3501.050</text><text x="744.65" y="1640.05" textLength="20.5" lengthAdjust="spacingAndGlyphs" font-weight="700" fill="#1c2431">Date</text><text x="923.25" y="1640.05" textLength="50" lengthAdjust="spacingAndGlyphs" font-weight="700" fill="#1c2431">Description</text><text x="1164.75" y="1640.05" textLength="39.3" lengthAdjust="spacingAndGlyphs" font-weight="700" fill="#1c2431">Attorney</text><text x="1297.35" y="1640.05" textLength="91.7" lengthAdjust="spacingAndGlyphs" font-weight="700" fill="#1c2431">Produced to Defense</text><text x="594.8" y="1660.8" textLength="59" lengthAdjust="spacingAndGlyphs">3501.050-001</text><text x="731.05" y="1660.8" textLength="47.7" lengthAdjust="spacingAndGlyphs">2007.10.09</text><text x="1319.35" y="1660.8" textLength="47.7" lengthAdjust="spacingAndGlyphs">2021.04.12</text><text x="1175.7" y="1660.8" textLength="17.4" lengthAdjust="spacingAndGlyphs">N/A</text><text x="802.7" y="1660.8" textLength="198" lengthAdjust="spacingAndGlyphs">Florida D.A.V.I.D. individual summary page for</text><text x="603.95" y="1687.5" textLength="40.7" lengthAdjust="spacingAndGlyphs" font-weight="700" fill="#1c2431">3501.051</text><text x="744.65" y="1693.35" textLength="20.5" lengthAdjust="spacingAndGlyphs" font-weight="700" fill="#1c2431">Date</text><text x="923.25" y="1693.35" textLength="50" lengthAdjust="spacingAndGlyphs" font-weight="700" fill="#1c2431">Description</text><text x="1164.75" y="1693.35" textLength="39.3" lengthAdjust="spacingAndGlyphs" font-weight="700" fill="#1c2431">Attorney</text><text x="1297.35" y="1693.35" textLength="91.7" lengthAdjust="spacingAndGlyphs" font-weight="700" fill="#1c2431">Produced to Defense</text><text x="594.8" y="1714.1" textLength="59" lengthAdjust="spacingAndGlyphs">3501.051-001</text><text x="731.05" y="1714.1" textLength="47.7" lengthAdjust="spacingAndGlyphs">2019.07.17</text><text x="1319.35" y="1714.1" textLength="47.7" lengthAdjust="spacingAndGlyphs">2021.04.12</text><text x="852.7" y="1714.1" textLength="79" lengthAdjust="spacingAndGlyphs">proffer agreement</text><text x="594.8" y="1728.1" textLength="59" lengthAdjust="spacingAndGlyphs">3501.051-002</text><text x="731.05" y="1728.1" textLength="47.7" lengthAdjust="spacingAndGlyphs">2019.07.17</text><text x="1319.35" y="1728.1" textLength="47.7" lengthAdjust="spacingAndGlyphs">2021.04.12</text><text x="852.7" y="1728.1" textLength="58" lengthAdjust="spacingAndGlyphs">interview 302</text><text x="594.8" y="1741.6" textLength="59" lengthAdjust="spacingAndGlyphs">3501.051-003</text><text x="731.05" y="1741.6" textLength="47.7" lengthAdjust="spacingAndGlyphs">2019.07.17</text><text x="1319.35" y="1741.6" textLength="47.7" lengthAdjust="spacingAndGlyphs">2021.04.12</text><text x="852.7" y="1741.6" textLength="67" lengthAdjust="spacingAndGlyphs">interview notes</text><text x="594.8" y="1754.8" textLength="59" lengthAdjust="spacingAndGlyphs">3501.051-004</text><text x="731.05" y="1754.8" textLength="47.7" lengthAdjust="spacingAndGlyphs">2019.07.10</text><text x="1319.35" y="1754.8" textLength="47.7" lengthAdjust="spacingAndGlyphs">2021.07.23</text><text x="802.7" y="1754.8" textLength="126" lengthAdjust="spacingAndGlyphs">Crisis intake report regarding</text><text x="603.95" y="1781.5" textLength="40.7" lengthAdjust="spacingAndGlyphs" font-weight="700" fill="#1c2431">3501.052</text><text x="744.65" y="1787.6" textLength="20.5" lengthAdjust="spacingAndGlyphs" font-weight="700" fill="#1c2431">Date</text><text x="923.25" y="1787.6" textLength="50" lengthAdjust="spacingAndGlyphs" font-weight="700" fill="#1c2431">Description</text><text x="1164.75" y="1787.6" textLength="39.3" lengthAdjust="spacingAndGlyphs" font-weight="700" fill="#1c2431">Attorney</text><text x="1297.35" y="1787.6" textLength="91.7" lengthAdjust="spacingAndGlyphs" font-weight="700" fill="#1c2431">Produced to Defense</text><text x="594.8" y="1808.8" textLength="59" lengthAdjust="spacingAndGlyphs">3501.052-001</text><text x="731.05" y="1808.8" textLength="47.7" lengthAdjust="spacingAndGlyphs">2006.10.18</text><text x="1319.35" y="1808.8" textLength="47.7" lengthAdjust="spacingAndGlyphs">2021.04.12</text><text x="802.7" y="1808.8" textLength="198" lengthAdjust="spacingAndGlyphs">Florida D.A.V.I.D. individual summary page for</text><text x="594.8" y="1822.3" textLength="59" lengthAdjust="spacingAndGlyphs">3501.052-002</text><text x="731.05" y="1822.3" textLength="47.7" lengthAdjust="spacingAndGlyphs">2006.10.18</text><text x="1319.35" y="1822.3" textLength="47.7" lengthAdjust="spacingAndGlyphs">2021.04.12</text><text x="802.7" y="1822.3" textLength="198" lengthAdjust="spacingAndGlyphs">Florida D.A.V.I.D. individual summary page for</text><text x="594.8" y="1835.5" textLength="59" lengthAdjust="spacingAndGlyphs">3501.052-003</text><text x="731.05" y="1835.5" textLength="47.7" lengthAdjust="spacingAndGlyphs">2006.12.04</text><text x="1319.35" y="1835.5" textLength="47.7" lengthAdjust="spacingAndGlyphs">2021.04.12</text><text x="1175.7" y="1835.5" textLength="17.4" lengthAdjust="spacingAndGlyphs">N/A</text><text x="802.7" y="1835.5" textLength="103" lengthAdjust="spacingAndGlyphs">Search record regarding</text></g><rect fill="#0a0a0a" x="1005" y="630.4" width="61.2" height="10.6"/><rect fill="#0a0a0a" x="802.7" y="644.5" width="50.5" height="10.5"/><rect fill="#0a0a0a" x="578.5" y="685.7" width="91.8" height="9.8"/><rect fill="#0a0a0a" x="802.7" y="697.6" width="89.3" height="11"/><rect fill="#0a0a0a" x="802.7" y="710.2" width="89.3" height="12.4"/><rect fill="#0a0a0a" x="802.7" y="724.2" width="89.3" height="11.9"/><rect fill="#0a0a0a" x="802.7" y="737.7" width="89.3" height="12.1"/><rect fill="#0a0a0a" x="802.7" y="751.4" width="89.3" height="11.9"/><rect fill="#0a0a0a" x="802.7" y="764.9" width="89.3" height="11.9"/><rect fill="#0a0a0a" x="802.7" y="778.4" width="89.3" height="11.6"/><rect fill="#0a0a0a" x="1151.8" y="886" width="65.2" height="11.3"/><rect fill="#0a0a0a" x="589.8" y="927.3" width="68.7" height="10.4"/><rect fill="#0a0a0a" x="1004.2" y="939.7" width="68.2" height="11.6"/><rect fill="#0a0a0a" x="594.5" y="981" width="59.8" height="9.7"/><rect fill="#0a0a0a" x="802.7" y="992.5" width="57.8" height="11.9"/><rect fill="#0a0a0a" x="920" y="1032.6" width="58" height="11.6"/><rect fill="#0a0a0a" x="1034" y="1060.9" width="58" height="10.9"/><rect fill="#0a0a0a" x="802.7" y="1100" width="57.8" height="12.1"/><rect fill="#0a0a0a" x="855" y="1113.7" width="58" height="12.2"/><rect fill="#0a0a0a" x="856" y="1140.7" width="58.4" height="11.8"/><rect fill="#0a0a0a" x="802.7" y="1154.1" width="57.8" height="11.6"/><rect fill="#0a0a0a" x="943.9" y="1194.5" width="57.8" height="11.9"/><rect fill="#0a0a0a" x="802.7" y="1208" width="57.8" height="11.6"/><rect fill="#0a0a0a" x="802.7" y="1221.2" width="57.8" height="11.9"/><rect fill="#0a0a0a" x="887.7" y="1234.7" width="58.1" height="12.4"/><rect fill="#0a0a0a" x="1034" y="1276" width="58" height="11.3"/><rect fill="#0a0a0a" x="1034" y="1303" width="58" height="10.7"/><rect fill="#0a0a0a" x="988.2" y="1315.4" width="57.6" height="11.9"/><rect fill="#0a0a0a" x="913.8" y="1355.6" width="30.1" height="11.5"/><rect fill="#0a0a0a" x="854.6" y="1368.7" width="65.4" height="11.9"/><rect fill="#0a0a0a" x="854.6" y="1382.2" width="65.4" height="11.9"/><rect fill="#0a0a0a" x="854.6" y="1395.7" width="65.4" height="12.4"/><rect fill="#0a0a0a" x="854.6" y="1409.7" width="65.4" height="11.6"/><rect fill="#0a0a0a" x="854.6" y="1422.9" width="65.4" height="11.9"/><rect fill="#0a0a0a" x="854.6" y="1436.4" width="65.4" height="11.6"/><rect fill="#0a0a0a" x="597.3" y="1478" width="53.9" height="10.5"/><rect fill="#0a0a0a" x="880" y="1490.2" width="53.2" height="11.4"/><rect fill="#0a0a0a" x="1034" y="1518.5" width="52.4" height="10.7"/><rect fill="#0a0a0a" x="955" y="1530.4" width="52.9" height="11.8"/><rect fill="#0a0a0a" x="592.3" y="1572" width="64" height="10.5"/><rect fill="#0a0a0a" x="880.7" y="1584.2" width="61.8" height="11.9"/><rect fill="#0a0a0a" x="955" y="1597.7" width="62.1" height="11.6"/><rect fill="#0a0a0a" x="596" y="1639.5" width="56" height="9.8"/><rect fill="#0a0a0a" x="1004.2" y="1651.3" width="55" height="11.6"/><rect fill="#0a0a0a" x="599.6" y="1693.3" width="48.8" height="10.1"/><rect fill="#0a0a0a" x="802.7" y="1704.6" width="47.3" height="11.6"/><rect fill="#0a0a0a" x="802.7" y="1717.8" width="47.3" height="12.4"/><rect fill="#0a0a0a" x="802.7" y="1731.8" width="47.3" height="11.9"/><rect fill="#0a0a0a" x="1154.6" y="1746" width="59.4" height="11.3"/><rect fill="#0a0a0a" x="931.2" y="1745.3" width="46.8" height="11.6"/><rect fill="#0a0a0a" x="591.2" y="1787.2" width="65.6" height="10.1"/><rect fill="#0a0a0a" x="1004.2" y="1800.7" width="64.6" height="9.8"/><rect fill="#0a0a0a" x="1004.2" y="1814.2" width="64.6" height="9.8"/><rect fill="#0a0a0a" x="908.8" y="1826" width="64" height="11.6"/><g font-family="Liberation Sans, sans-serif" font-size="24.3" fill="#c42c38" stroke="#c42c38" stroke-width="0.6"><text x="596.3" y="1924.9" textLength="98.7" lengthAdjust="spacingAndGlyphs">SUBJECT</text><text x="700" y="1924.9" textLength="32.4" lengthAdjust="spacingAndGlyphs">TO</text><text x="741.3" y="1924.9" textLength="141.1" lengthAdjust="spacingAndGlyphs">PROTECTIVE</text><text x="890.3" y="1924.9" textLength="80.2" lengthAdjust="spacingAndGlyphs">ORDER</text><text x="978.3" y="1924.9" textLength="157.5" lengthAdjust="spacingAndGlyphs">PARAGRAPHS</text><text x="1143.8" y="1924.9" textLength="19.9" lengthAdjust="spacingAndGlyphs">7,</text><text x="1170.2" y="1924.9" textLength="21.4" lengthAdjust="spacingAndGlyphs">8,</text><text x="1198.1" y="1924.9" textLength="21.5" lengthAdjust="spacingAndGlyphs">9,</text><text x="1227.5" y="1924.9" textLength="33.9" lengthAdjust="spacingAndGlyphs">10,</text><text x="1269.3" y="1924.9" textLength="34.4" lengthAdjust="spacingAndGlyphs">15,</text><text x="1311.2" y="1924.9" textLength="43.4" lengthAdjust="spacingAndGlyphs">and</text><text x="1361.5" y="1924.9" textLength="27.5" lengthAdjust="spacingAndGlyphs">17</text></g><text x="1476.6" y="1928.8" textLength="8.4" lengthAdjust="spacingAndGlyphs" font-family="Liberation Sans, sans-serif" font-size="14" fill="#333">8</text></svg>
<svg style="left:0;top:0" width="1668" height="2388" viewBox="0 0 1668 2388">
<path d="M465.2 1977.6 L462 1977.6 C456.5 1977.6 453.1 1972.8 453.1 1967 C453.1 1961 457.5 1956.4 463.5 1956.4 L470.5 1956.4 C476.5 1956.4 481 1961 481 1966.8 C481 1970.8 478.8 1973.6 475.8 1975.3 L465.2 1981.4 Z" fill="none" stroke="#536471" stroke-width="2.8" stroke-linejoin="miter"/>
<g transform="translate(640,1945)"><path d="M12.5 21 L18.1 15.4 L23.7 21 M18.1 15.4 V30.5 Q18.1 35 22.6 35 H30.7 M27.1 15 H35.3 Q39.8 15 39.8 19.5 V34.3 M34.2 28.7 L39.8 34.3 L45.4 28.7" fill="none" stroke="#00ba7c" stroke-width="3.9"/></g>
<path d="M870.9 1966.3 C869 1963.3 866 1961.7 863 1961.7 C859.3 1961.7 856.4 1964.7 856.4 1969 C856.4 1975.5 863 1980.5 870.9 1985.6 C878.8 1980.5 885.4 1975.5 885.4 1969 C885.4 1964.7 882.5 1961.7 878.8 1961.7 C875.8 1961.7 872.8 1963.3 870.9 1966.3 Z" fill="none" stroke="#536471" stroke-width="2.8" stroke-linejoin="miter"/>
<g fill="#536471"><rect x="1061.1" y="1968.4" width="2.8" height="14.9"/><rect x="1068.1" y="1956.2" width="2.8" height="27.1"/><rect x="1075.1" y="1973" width="2.8" height="10.3"/><rect x="1082.1" y="1964" width="2.8" height="19.3"/></g>
<path d="M1263.5 1982 L1263.5 1959.5 Q1263.5 1956.3 1266.7 1956.3 L1283.3 1956.3 Q1286.5 1956.3 1286.5 1959.5 L1286.5 1982 L1275 1975.9 Z" fill="none" stroke="#536471" stroke-width="2.8"/>
<path d="M1392.8 1973 L1392.8 1978.2 Q1392.8 1982 1396.6 1982 L1413.4 1982 Q1417.2 1982 1417.2 1978.2 L1417.2 1973 M1405.1 1975.9 L1405.1 1958.5 M1397.6 1965.6 L1405.1 1958.1 L1412.6 1965.6" fill="none" stroke="#536471" stroke-width="2.8"/>
<path d="M324 2019.2 H1536.7" stroke="#cfd9de" stroke-width="1.2"/>
</svg>
<div class="t" id="n418" style="left:494px;top:1958.68px;font-size:24px;line-height:24px;color:#536471;letter-spacing:-1px;">418</div>
<div class="t" id="n23k" style="left:695px;top:1958.68px;font-size:24px;line-height:24px;color:#00ba7c;letter-spacing:0.17px;">2.3K</div>
<div class="t" id="n51k" style="left:893.6px;top:1963.23px;font-size:23px;line-height:23px;color:#536471;letter-spacing:-1.33px;">5.1K</div>
<div class="t" id="n51K" style="left:1099.5px;top:1958.68px;font-size:24px;line-height:24px;color:#536471;letter-spacing:-1.8px;">51K</div>
<svg style="left:0;top:0" width="1668" height="2388" viewBox="0 0 1668 2388">
<g transform="translate(390,2043.7) scale(0.93)"><path d="M12.5 21 L18.1 15.4 L23.7 21 M18.1 15.4 V30.5 Q18.1 35 22.6 35 H30.7 M27.1 15 H35.3 Q39.8 15 39.8 19.5 V34.3 M34.2 28.7 L39.8 34.3 L45.4 28.7" fill="none" stroke="#536471" stroke-width="3.9"/></g>
</svg>
<div class="t" id="rp1" style="left:449.5px;top:2052.95px;font-size:29px;line-height:29px;color:#536471;font-weight:700;letter-spacing:0.6px;">sue#NHSLove</div>
<svg style="left:0;top:0;width:0;height:0"><defs><linearGradient id="hg" x1="0" y1="0" x2="0" y2="1"><stop offset="0" stop-color="#5ea2ff"/><stop offset="0.35" stop-color="#2f7cf8"/><stop offset="1" stop-color="#1a5fe8"/></linearGradient></defs></svg>
<svg style="left:654.5px;top:2049.8px" width="35" height="35.5" viewBox="0 0 35 35.5">
<path d="M17.5 35 L4 20 C1.5 17 0.6 14 0.6 11 C0.6 4.8 4.5 0.6 9.5 0.6 C13.2 0.6 16 2.8 17.5 7.7 C19 2.8 21.8 0.6 25.5 0.6 C30.5 0.6 34.4 4.8 34.4 11 C34.4 14 33.5 17 31 20 Z" fill="url(#hg)" stroke="#1d5fe0" stroke-width="1"/>
<ellipse cx="9" cy="6" rx="4" ry="2.2" fill="#a9ccff" opacity="0.55" transform="rotate(-20 9 6)"/><ellipse cx="26" cy="6" rx="4" ry="2.2" fill="#a9ccff" opacity="0.55" transform="rotate(20 26 6)"/></svg>
<svg style="left:696.4px;top:2049.8px" width="35" height="35.5" viewBox="0 0 35 35.5">
<path d="M17.5 35 L4 20 C1.5 17 0.6 14 0.6 11 C0.6 4.8 4.5 0.6 9.5 0.6 C13.2 0.6 16 2.8 17.5 7.7 C19 2.8 21.8 0.6 25.5 0.6 C30.5 0.6 34.4 4.8 34.4 11 C34.4 14 33.5 17 31 20 Z" fill="url(#hg)" stroke="#1d5fe0" stroke-width="1"/>
<ellipse cx="9" cy="6" rx="4" ry="2.2" fill="#a9ccff" opacity="0.55" transform="rotate(-20 9 6)"/><ellipse cx="26" cy="6" rx="4" ry="2.2" fill="#a9ccff" opacity="0.55" transform="rotate(20 26 6)"/></svg>
<svg style="left:738.3px;top:2049.8px" width="35" height="35.5" viewBox="0 0 35 35.5">
<path d="M17.5 35 L4 20 C1.5 17 0.6 14 0.6 11 C0.6 4.8 4.5 0.6 9.5 0.6 C13.2 0.6 16 2.8 17.5 7.7 C19 2.8 21.8 0.6 25.5 0.6 C30.5 0.6 34.4 4.8 34.4 11 C34.4 14 33.5 17 31 20 Z" fill="url(#hg)" stroke="#1d5fe0" stroke-width="1"/>
<ellipse cx="9" cy="6" rx="4" ry="2.2" fill="#a9ccff" opacity="0.55" transform="rotate(-20 9 6)"/><ellipse cx="26" cy="6" rx="4" ry="2.2" fill="#a9ccff" opacity="0.55" transform="rotate(20 26 6)"/></svg>
<div class="t" id="rp2" style="left:776.5px;top:2052.95px;font-size:29px;line-height:29px;color:#536471;font-weight:700;letter-spacing:0.35px;">#FBNHS suesuezep.bsky.social reposted</div>
<svg style="left:320px;top:2095px" width="114" height="114" viewBox="0 0 1604 1604">
<defs><clipPath id="av2c"><circle cx="805" cy="808" r="740"/></clipPath>
<filter id="av2b" x="-5%" y="-5%" width="110%" height="110%"><feGaussianBlur stdDeviation="13"/></filter>
<radialGradient id="lg1" cx="0.5" cy="0.5" r="0.5"><stop offset="0" stop-color="#6fb08a"/><stop offset="1" stop-color="#3d7a5a"/></radialGradient>
<radialGradient id="lg2" cx="0.5" cy="0.5" r="0.5"><stop offset="0" stop-color="#4f8f6c"/><stop offset="1" stop-color="#2a5a42"/></radialGradient></defs>
<g clip-path="url(#av2c)"><g filter="url(#av2b)">
<rect width="1604" height="1604" fill="#2a4a38"/>
<rect x="380" y="20" width="1000" height="330" fill="#b3ab9b"/>
<rect x="40" y="150" width="420" height="700" fill="#873a14"/>
<rect x="200" y="300" width="220" height="300" fill="#a4501e"/>
<rect x="1000" y="270" width="600" height="120" fill="#4a2a18"/>
<rect x="1030" y="385" width="560" height="250" fill="#d47a20"/>
<rect x="1200" y="630" width="400" height="200" fill="#6a3a22"/>
<ellipse cx="1360" cy="560" rx="90" ry="110" fill="#4a3020"/>
<ellipse cx="1350" cy="660" rx="60" ry="80" fill="#e0a030"/>
<rect x="1395" y="720" width="95" height="85" fill="#e6e0d8"/>
<rect x="1200" y="820" width="400" height="400" fill="#5c2c16"/>
<rect x="1100" y="1200" width="500" height="400" fill="#8e7a70"/>
<rect x="40" y="830" width="300" height="560" fill="#d6cdc2"/>
<path d="M40 900 H340 M40 990 H340 M40 1080 H340 M40 1170 H340 M40 1260 H340" stroke="#8f857b" stroke-width="24"/>
<rect x="130" y="800" width="60" height="60" fill="#d8d040"/>
<ellipse cx="620" cy="230" rx="230" ry="150" fill="#2c5640"/>
<ellipse cx="930" cy="200" rx="160" ry="110" fill="#33604a"/>
<ellipse cx="1250" cy="230" rx="80" ry="90" fill="#3a6a50"/>
<ellipse cx="330" cy="500" rx="110" ry="180" fill="#3d6a40" transform="rotate(20 330 500)"/>
<ellipse cx="760" cy="470" rx="180" ry="260" fill="url(#lg1)" transform="rotate(40 760 470)"/>
<ellipse cx="560" cy="410" rx="120" ry="160" fill="#3f7558"/>
<ellipse cx="990" cy="760" rx="160" ry="210" fill="url(#lg1)" transform="rotate(-5 990 760)"/>
<ellipse cx="520" cy="790" rx="150" ry="250" fill="url(#lg1)" transform="rotate(35 520 790)"/>
<ellipse cx="760" cy="820" rx="120" ry="200" fill="#2a4f3a"/>
<ellipse cx="1180" cy="930" rx="140" ry="180" fill="#2f5c45"/>
<ellipse cx="420" cy="1140" rx="150" ry="230" fill="url(#lg2)" transform="rotate(15 420 1140)"/>
<ellipse cx="780" cy="1150" rx="210" ry="230" fill="#23432f"/>
<ellipse cx="1050" cy="1230" rx="170" ry="190" fill="#2f5a44"/>
<ellipse cx="650" cy="1420" rx="260" ry="170" fill="#2e5c44"/>
<ellipse cx="1000" cy="1450" rx="160" ry="120" fill="#4a3a34"/>
<g transform="rotate(40 760 470)"><ellipse cx="760" cy="470" rx="170" ry="240" fill="#5aa37c"/><path d="M760 250 V690" stroke="#8fd0a8" stroke-width="10" opacity="0.6"/><path d="M711 332 L615 313 M808 332 L904 313" stroke="#1f3b2c" stroke-width="14"/><path d="M704 387 L595 368 M815 387 L924 368" stroke="#1f3b2c" stroke-width="14"/><path d="M700 442 L586 423 M819 442 L933 423" stroke="#1f3b2c" stroke-width="14"/><path d="M700 497 L586 478 M819 497 L933 478" stroke="#1f3b2c" stroke-width="14"/><path d="M704 552 L595 533 M815 552 L924 533" stroke="#1f3b2c" stroke-width="14"/><path d="M711 607 L615 587 M808 607 L904 587" stroke="#1f3b2c" stroke-width="14"/></g><g transform="rotate(-10 1000 760)"><ellipse cx="1000" cy="760" rx="150" ry="200" fill="#4f9a72"/><path d="M1000 580 V940" stroke="#8fd0a8" stroke-width="10" opacity="0.6"/><path d="M956 645 L871 629 M1043 645 L1128 629" stroke="#1f3b2c" stroke-width="14"/><path d="M950 691 L854 675 M1049 691 L1145 675" stroke="#1f3b2c" stroke-width="14"/><path d="M947 737 L845 721 M1052 737 L1154 721" stroke="#1f3b2c" stroke-width="14"/><path d="M947 782 L845 766 M1052 782 L1154 766" stroke="#1f3b2c" stroke-width="14"/><path d="M950 828 L854 812 M1049 828 L1145 812" stroke="#1f3b2c" stroke-width="14"/><path d="M956 874 L871 858 M1043 874 L1128 858" stroke="#1f3b2c" stroke-width="14"/></g><g transform="rotate(35 520 790)"><ellipse cx="520" cy="790" rx="140" ry="230" fill="#57a079"/><path d="M520 580 V1000" stroke="#8fd0a8" stroke-width="10" opacity="0.6"/><path d="M479 658 L400 640 M560 658 L639 640" stroke="#1f3b2c" stroke-width="14"/><path d="M473 711 L383 692 M566 711 L656 692" stroke="#1f3b2c" stroke-width="14"/><path d="M471 763 L375 745 M568 763 L664 745" stroke="#1f3b2c" stroke-width="14"/><path d="M471 816 L375 797 M568 816 L664 797" stroke="#1f3b2c" stroke-width="14"/><path d="M473 868 L383 850 M566 868 L656 850" stroke="#1f3b2c" stroke-width="14"/><path d="M479 921 L400 903 M560 921 L639 903" stroke="#1f3b2c" stroke-width="14"/></g><g transform="rotate(15 420 1150)"><ellipse cx="420" cy="1150" rx="130" ry="200" fill="#4a8c68"/><path d="M420 970 V1330" stroke="#8fd0a8" stroke-width="10" opacity="0.6"/><path d="M382 1035 L308 1019 M457 1035 L531 1019" stroke="#1f3b2c" stroke-width="14"/><path d="M377 1081 L292 1065 M462 1081 L547 1065" stroke="#1f3b2c" stroke-width="14"/><path d="M374 1127 L285 1111 M465 1127 L554 1111" stroke="#1f3b2c" stroke-width="14"/><path d="M374 1172 L285 1156 M465 1172 L554 1156" stroke="#1f3b2c" stroke-width="14"/><path d="M377 1218 L292 1202 M462 1218 L547 1202" stroke="#1f3b2c" stroke-width="14"/><path d="M382 1264 L308 1248 M457 1264 L531 1248" stroke="#1f3b2c" stroke-width="14"/></g><g transform="rotate(-30 640 300)"><ellipse cx="640" cy="300" rx="120" ry="150" fill="#3f7a5a"/><path d="M640 170 V430" stroke="#8fd0a8" stroke-width="10" opacity="0.6"/><path d="M605 214 L536 202 M674 214 L743 202" stroke="#1f3b2c" stroke-width="14"/><path d="M600 248 L522 236 M679 248 L757 236" stroke="#1f3b2c" stroke-width="14"/><path d="M598 282 L515 270 M681 282 L764 270" stroke="#1f3b2c" stroke-width="14"/><path d="M598 317 L515 305 M681 317 L764 305" stroke="#1f3b2c" stroke-width="14"/><path d="M600 351 L522 339 M679 351 L757 339" stroke="#1f3b2c" stroke-width="14"/><path d="M605 385 L536 373 M674 385 L743 373" stroke="#1f3b2c" stroke-width="14"/></g><g transform="rotate(20 1050 1220)"><ellipse cx="1050" cy="1220" rx="130" ry="160" fill="#3c7456"/><path d="M1050 1080 V1360" stroke="#8fd0a8" stroke-width="10" opacity="0.6"/><path d="M1012 1128 L938 1115 M1087 1128 L1161 1115" stroke="#1f3b2c" stroke-width="14"/><path d="M1007 1165 L922 1152 M1092 1165 L1177 1152" stroke="#1f3b2c" stroke-width="14"/><path d="M1004 1201 L915 1188 M1095 1201 L1184 1188" stroke="#1f3b2c" stroke-width="14"/><path d="M1004 1238 L915 1225 M1095 1238 L1184 1225" stroke="#1f3b2c" stroke-width="14"/><path d="M1007 1274 L922 1262 M1092 1274 L1177 1262" stroke="#1f3b2c" stroke-width="14"/><path d="M1012 1311 L938 1298 M1087 1311 L1161 1298" stroke="#1f3b2c" stroke-width="14"/></g><g transform="rotate(0 700 1420)"><ellipse cx="700" cy="1420" rx="170" ry="120" fill="#3f7a5c"/><path d="M700 1320 V1520" stroke="#8fd0a8" stroke-width="10" opacity="0.6"/><path d="M651 1351 L555 1341 M748 1351 L844 1341" stroke="#1f3b2c" stroke-width="14"/><path d="M644 1378 L535 1369 M755 1378 L864 1369" stroke="#1f3b2c" stroke-width="14"/><path d="M640 1406 L526 1396 M759 1406 L873 1396" stroke="#1f3b2c" stroke-width="14"/><path d="M640 1433 L526 1424 M759 1433 L873 1424" stroke="#1f3b2c" stroke-width="14"/><path d="M644 1461 L535 1451 M755 1461 L864 1451" stroke="#1f3b2c" stroke-width="14"/><path d="M651 1488 L555 1478 M748 1488 L844 1478" stroke="#1f3b2c" stroke-width="14"/></g>
</g></g></svg>
<div class="t" id="josant" style="left:449.5px;top:2098.91px;font-size:32px;line-height:32px;color:#0f1419;font-weight:700;">Josant</div>
<div class="t" id="handle2" style="left:562.4px;top:2098.91px;font-size:32px;line-height:32px;color:#536471;letter-spacing:0.4px;">@JANewMediaArt · 2d</div>
<div class="t" id="replying" style="left:447.5px;top:2148.91px;font-size:32px;line-height:32px;color:#536471;letter-spacing:0.6px;">Replying to</div>
<div class="t" id="replyto" style="left:624px;top:2148.91px;font-size:32px;line-height:32px;color:#1d9bf0;letter-spacing:0.83px;">@PeterSweden7</div>
<svg style="left:1447.4px;top:2097.5px" width="39.48" height="39.48" viewBox="0 0 60 60"><path d="M19.55 40.04 A16.40 16.40 0 0 1 39.93 14.55 M42.80 16.91 A16.40 16.40 0 0 1 21.59 41.73" fill="none" stroke="#536471" stroke-width="5"/><polygon points="55.4,3.6 44.3,18.4 25.3,34.5 40.9,14.9" fill="#536471"/><polygon points="17.7,38.3 23.2,36.6 21.3,41.8 5.3,52.4" fill="#536471"/></svg>
<svg style="left:1500px;top:2108px" width="40" height="16" viewBox="0 0 40 16"><g fill="#aab8c2"><circle cx="8.3" cy="7.8" r="3.1"/><circle cx="19" cy="7.8" r="3.1"/><circle cx="29.4" cy="7.8" r="3.1"/></g></svg>
<div class="t" id="c1" style="left:447.5px;top:2208.66px;font-size:33px;line-height:33px;color:#0f1419;letter-spacing:0.58px;">FALSE. Child Abduction Warning Notices were not introduced by</div>
<div class="t" id="c2" style="left:448.5px;top:2255.06px;font-size:33px;line-height:33px;color:#0f1419;letter-spacing:0.5px;">Starmer, whilst they still existed during his time in the CPS, Starmer</div>
<div class="t" id="c3" style="left:449.5px;top:2301.26px;font-size:33px;line-height:33px;color:#0f1419;letter-spacing:-0.51px;">also OVERSAW A RECORD NUMBER OF CHILD SEXUAL ABUSE</div>
<div class="t" id="c4" style="left:447.5px;top:2347.26px;font-size:33px;line-height:33px;color:#0f1419;letter-spacing:-0.38px;">PROSECUTIONS.</div>
<div style="position:absolute;left:0;top:0;width:1668px;height:236px;background:#fff;"></div>
<div style="position:absolute;left:192px;top:235.9px;width:1476px;height:1.3px;background:#cbd6dd;"></div>
<svg style="left:908.4px;top:74.6px" width="45.2" height="46.2" viewBox="0 0 1200 1227"><path fill="#0f1419" stroke="#0f1419" stroke-width="34" d="M714.163 519.284L1160.89 0H1055.03L667.137 450.887L357.328 0H0L468.492 681.821L0 1226.37H105.866L515.491 750.218L842.672 1226.37H1200L714.163 519.284ZM569.165 687.828L521.697 619.934L144.011 79.6944H306.615L611.412 515.685L658.88 583.579L1055.08 1150.3H892.476L569.165 687.828Z"/></svg>
<div class="t" id="foryou" style="left:482.9px;top:175.36px;font-size:33px;line-height:33px;color:#536471;font-weight:700;letter-spacing:-0.33px;">For you</div>
<div class="t" id="following" style="left:1191.6px;top:175.16px;font-size:33px;line-height:33px;color:#0f1419;font-weight:700;letter-spacing:-0.04px;">Following</div>
<svg style="left:1356px;top:184px" width="20" height="16" viewBox="0 0 20 16"><path d="M3.5 4 L10 10.5 L16.5 4" fill="none" stroke="#536471" stroke-width="2"/></svg>
<div style="position:absolute;left:1184px;top:229.8px;width:193px;height:6.2px;border-radius:3.1px;background:#1d9bf0;"></div>
<div class="t" id="time" style="left:30.7px;top:18.59px;font-size:28px;line-height:28px;color:#0f1419;letter-spacing:1.82px;-webkit-text-stroke:0.7px #000;color:#000;">14:48</div>
<div class="t" id="date" style="left:129px;top:18.59px;font-size:28px;line-height:28px;color:#0f1419;letter-spacing:0.67px;-webkit-text-stroke:0.7px #000;color:#000;">Thu 26 Feb</div>
<svg style="left:1460px;top:20px" width="32" height="24" viewBox="0 0 32 24">
<path d="M2.5 8.6 A19 19 0 0 1 29.5 8.6" fill="none" stroke="#000" stroke-width="3.6" stroke-linecap="round"/>
<path d="M7.5 13.4 A12 12 0 0 1 24.5 13.4" fill="none" stroke="#000" stroke-width="3.6" stroke-linecap="round"/>
<path d="M16 21.8 L11.6 17.5 A6.3 6.3 0 0 1 20.4 17.5 Z" fill="#000"/></svg>
<div class="t" id="batt" style="left:1498.5px;top:18.09px;font-size:28px;line-height:28px;color:#0f1419;letter-spacing:1.1px;-webkit-text-stroke:0.5px #000;color:#000;">100%</div>
<svg style="left:1582px;top:18px" width="58" height="28" viewBox="0 0 58 28">
<rect x="2.3" y="2.3" width="48.4" height="23.4" rx="7" fill="none" stroke="#9a9a9a" stroke-width="2.2"/>
<rect x="5.4" y="5.4" width="42.2" height="17.2" rx="4" fill="#34c759"/>
<path d="M53.2 10 Q55.7 10.5 55.7 14 Q55.7 17.5 53.2 18 Z" fill="#9a9a9a"/>
<path d="M30.5 1.5 L17.5 16 L25 16 L21.5 27 L35 11.5 L27.5 11.5 Z" fill="#000" stroke="#fff" stroke-width="2.2" paint-order="stroke"/>
</svg>
<div style="position:absolute;left:0;top:0;width:192px;height:2388px;background:transparent;"></div>
<div style="position:absolute;left:191.9px;top:0;width:1.3px;height:2388px;background:#d3dce2;"></div>
<div style="position:absolute;left:0;top:1315.4px;width:192px;height:1.2px;background:#cfd9de;"></div>
<svg style="left:74.1px;top:91.5px" width="43.7" height="44.7" viewBox="0 0 1200 1227"><path fill="#0f1419" stroke="#0f1419" stroke-width="34" d="M714.163 519.284L1160.89 0H1055.03L667.137 450.887L357.328 0H0L468.492 681.821L0 1226.37H105.866L515.491 750.218L842.672 1226.37H1200L714.163 519.284ZM569.165 687.828L521.697 619.934L144.011 79.6944H306.615L611.412 515.685L658.88 583.579L1055.08 1150.3H892.476L569.165 687.828Z"/></svg>
<svg style="left:0;top:0" width="192" height="1400" viewBox="0 0 192 1400">
<path d="M93.5 209.2 Q96 207.6 98.5 209.2 L114 218 Q116 219.5 116 222 L116 243 Q116 248 111 248 L100.6 248 L100.6 237.4 A4.7 4.7 0 0 0 91.2 237.4 L91.2 248 L81 248 Q76 248 76 243 L76 222 Q76 219.5 78 218 Z" fill="#0f1419"/>
<circle cx="93.7" cy="353.4" r="16" fill="none" stroke="#0f1419" stroke-width="3.6"/>
<path d="M104.8 364.5 L114.6 374.3" stroke="#0f1419" stroke-width="3.8"/>
<path d="M82.6 607.5 A13.4 13.4 0 0 1 109.4 607.5 L112.3 622 L79.7 622 Z" fill="none" stroke="#0f1419" stroke-width="3.3" stroke-linejoin="miter"/>

<path d="M88.2 623.4 A7.8 7.8 0 0 0 103.8 623.4" fill="none" stroke="#0f1419" stroke-width="3.2"/>
<rect x="77.2" y="722.8" width="37.8" height="33.6" rx="8.5" fill="none" stroke="#0f1419" stroke-width="3.5"/>
<path d="M77.8 733.6 L96 742.4 L114.4 733.6" fill="none" stroke="#0f1419" stroke-width="3.5"/>
<path d="M81 886 L81 853.5 Q81 849.8 84.7 849.8 L107.3 849.8 Q111 849.8 111 853.5 L111 886 L96 876.4 Z" fill="none" stroke="#0f1419" stroke-width="3.5"/>
<rect x="80" y="977.8" width="32.2" height="36" rx="5.5" fill="none" stroke="#0f1419" stroke-width="3.5"/>
<path d="M88.2 989.8 H104 M88.2 997.8 H104" stroke="#0f1419" stroke-width="3"/>
<defs><clipPath id="pc"><circle cx="96" cy="1123.8" r="23.3"/></clipPath></defs>
<circle cx="96" cy="1123.8" r="23.3" fill="#ccd6dd"/>
<g clip-path="url(#pc)" fill="#66788a"><rect x="87" y="1110.6" width="18" height="19.4" rx="8"/><ellipse cx="96" cy="1146" rx="14" ry="13"/></g>
<circle cx="96" cy="1123.8" r="23.6" fill="none" stroke="#26313b" stroke-width="0.9"/>
<circle cx="96" cy="1251.8" r="18.2" fill="none" stroke="#0f1419" stroke-width="3.6"/>
<g fill="#0f1419"><circle cx="87.6" cy="1251.6" r="2.6"/><circle cx="96" cy="1251.6" r="2.6"/><circle cx="104.4" cy="1251.6" r="2.6"/></g>
</svg>
<svg style="left:65px;top:455px" width="60" height="60" viewBox="0 0 60 60"><path d="M19.55 40.04 A16.40 16.40 0 0 1 39.93 14.55 M42.80 16.91 A16.40 16.40 0 0 1 21.59 41.73" fill="none" stroke="#0f1419" stroke-width="5"/><polygon points="55.4,3.6 44.3,18.4 25.3,34.5 40.9,14.9" fill="#0f1419"/><polygon points="17.7,38.3 23.2,36.6 21.3,41.8 5.3,52.4" fill="#0f1419"/></svg>
<div style="position:absolute;left:99.3px;top:580px;width:41.5px;height:31.7px;border-radius:15.85px;background:#1d9bf0;"></div>
<div class="t" id="badge" style="left:106.6px;top:583.98px;font-size:24px;line-height:24px;color:#fff;letter-spacing:-1.5px;">16</div>
<div style="position:absolute;left:40px;top:2218px;width:112px;height:112px;border-radius:56px;background:#1d9bf0;box-shadow:0 3px 10px rgba(0,0,0,0.22);"></div>
<svg style="left:40px;top:2218px" width="112" height="112" viewBox="40 2218 112 112">
<path d="M83.8 2253.9 V2269.8 M75.9 2261.8 H91.8" stroke="#fff" stroke-width="4"/>
<g transform="translate(82.3,2291.6) rotate(45)"><path d="M0 0 L-6.2 -8.5 L-6.2 -38 A6.2 6.2 0 0 1 6.2 -38 L6.2 -8.5 Z M-6.2 -31 L6.2 -31" fill="none" stroke="#fff" stroke-width="3.6" stroke-linejoin="round"/></g>
</svg>
</body></html>
